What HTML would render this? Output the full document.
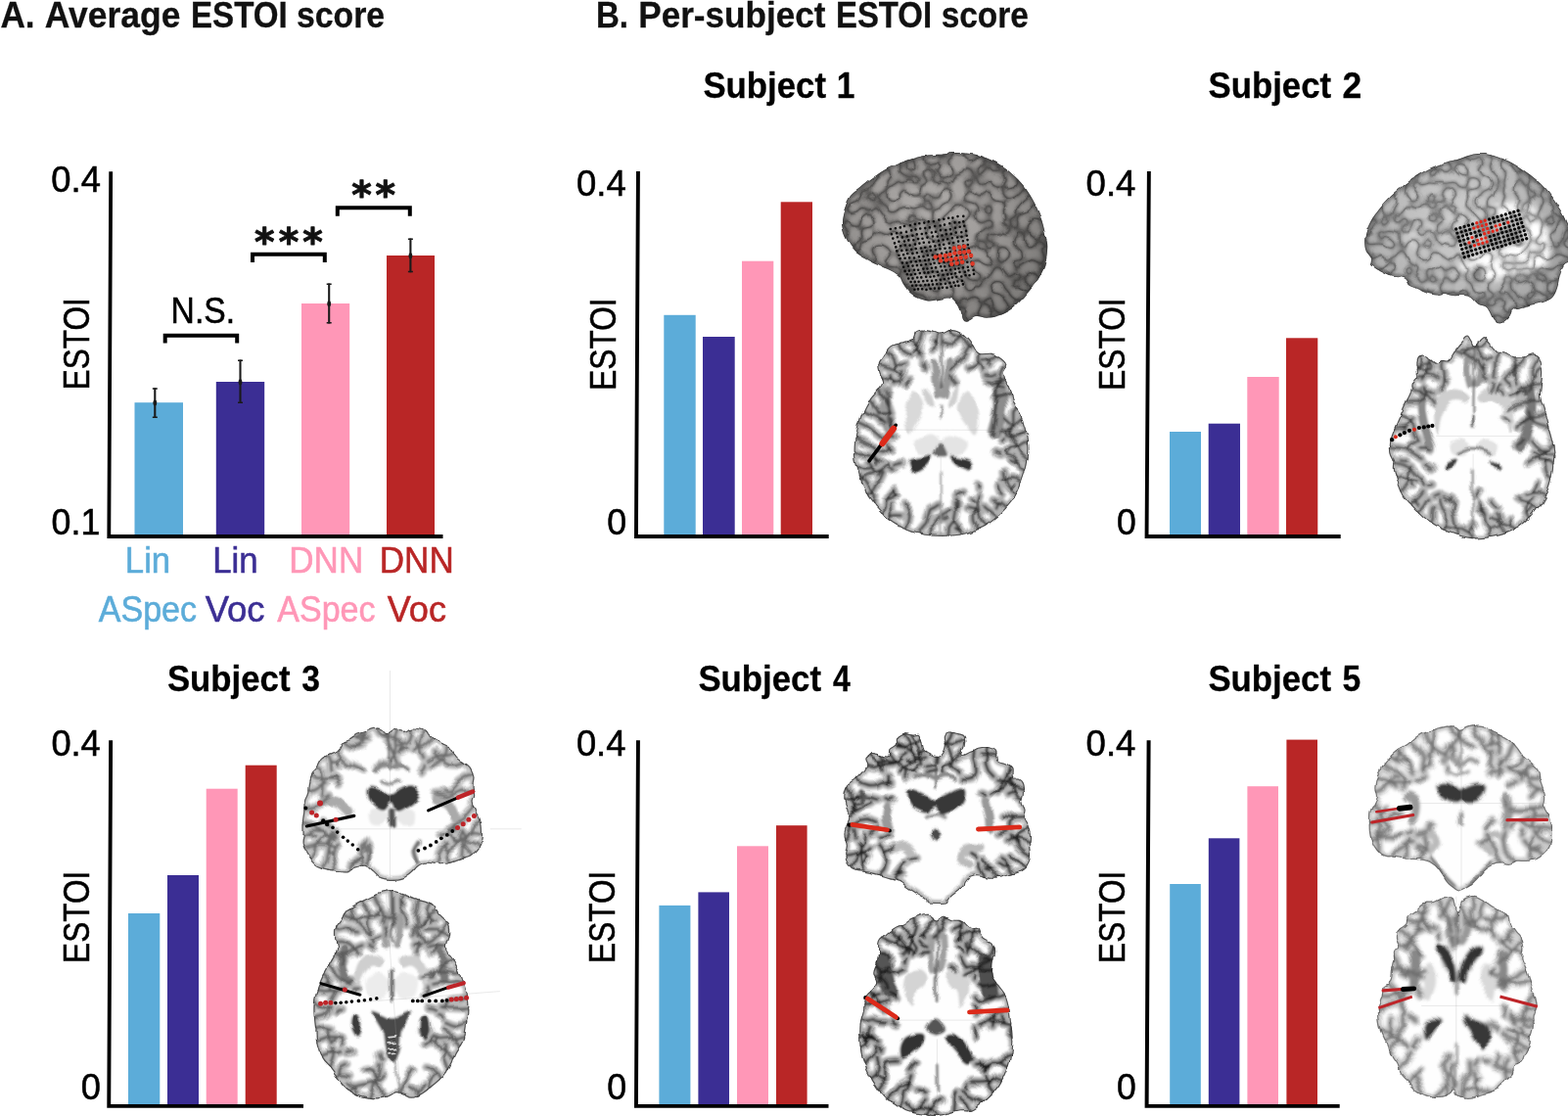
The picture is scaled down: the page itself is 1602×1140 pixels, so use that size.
<!DOCTYPE html>
<html lang="en">
<head>
<meta charset="utf-8">
<title>ESTOI scores</title>
<style>
html,body{margin:0;padding:0;background:#fff;}
body{width:1602px;height:1140px;overflow:hidden;}
svg{display:block;font-family:"Liberation Sans",sans-serif;}
</style>
</head>
<body>
<svg width="1602" height="1140" viewBox="0 0 1602 1140" role="img" aria-label="ESTOI score figure">
<rect x="0" y="0" width="1602" height="1140" fill="#fff"/>

<!-- 00_defs.svg -->
<defs>
<filter id="soft" x="-5%" y="-5%" width="110%" height="110%"><feGaussianBlur stdDeviation="1.25"/></filter>
<filter id="softer" x="-5%" y="-5%" width="110%" height="110%"><feGaussianBlur stdDeviation="1.7"/></filter>
<filter id="wob" x="-5%" y="-5%" width="110%" height="110%" color-interpolation-filters="sRGB"><feTurbulence type="fractalNoise" baseFrequency="0.075" numOctaves="1" seed="4" result="t"/><feDisplacementMap in="SourceGraphic" in2="t" scale="7" xChannelSelector="R" yChannelSelector="G" result="d"/><feGaussianBlur in="d" stdDeviation="0.45"/></filter>
<filter id="wob2" x="-5%" y="-5%" width="110%" height="110%" color-interpolation-filters="sRGB"><feTurbulence type="fractalNoise" baseFrequency="0.09" numOctaves="1" seed="8" result="t"/><feDisplacementMap in="SourceGraphic" in2="t" scale="4" xChannelSelector="R" yChannelSelector="G" result="d"/><feGaussianBlur in="d" stdDeviation="0.4"/></filter>
<filter id="soft0" x="-5%" y="-5%" width="110%" height="110%"><feGaussianBlur stdDeviation="0.6"/></filter>
<filter id="soft2" x="-20%" y="-20%" width="140%" height="140%"><feGaussianBlur stdDeviation="1.6"/></filter>
<filter id="soft3" x="-40%" y="-40%" width="180%" height="180%"><feGaussianBlur stdDeviation="3.2"/></filter>
<path id="ol_s1ax" d="M935.9 339.5C938.4 338 943.1 337.1 947.2 337.3C951.2 337.4 956.2 340.6 960.3 340.4C964.4 340.3 968.1 336.4 971.6 336.1C975 335.8 977.8 336.8 981 338.6C984.1 340.4 987.2 343.4 990.3 347C993.5 350.6 995.7 357.8 999.7 360.2C1003.8 362.5 1010.4 359.8 1014.7 361.1C1019.1 362.3 1023.7 365.3 1026 367.7C1028.4 370 1028.8 372.7 1028.8 375.2C1028.8 377.7 1025.5 379.2 1026 382.7C1026.5 386.1 1030.1 391.1 1031.6 395.8C1033.2 400.5 1033.5 406.5 1035.4 410.8C1037.3 415.2 1041 418.4 1042.9 422.1C1044.8 425.9 1045.4 429.3 1046.7 433.4C1047.9 437.4 1049.6 441.8 1050.4 446.5C1051.2 451.2 1051.7 456.2 1051.3 461.5C1051 466.8 1049.9 472.8 1048.5 478.4C1047.1 484.1 1045.1 490 1042.9 495.3C1040.7 500.6 1038.5 505.6 1035.4 510.3C1032.3 515 1028.2 519.4 1024.1 523.5C1020.1 527.5 1015.7 531.6 1011 534.7C1006.3 537.9 1001 540.3 996 542.2C991 544.2 986.6 545.6 981 546.6C975.3 547.5 968.4 547.9 962.2 547.9C955.9 547.9 949 547.5 943.4 546.6C937.8 545.6 933.4 544.2 928.4 542.2C923.4 540.3 918.1 537.9 913.4 534.7C908.7 531.6 904.3 527.5 900.2 523.5C896.2 519.4 892.1 514.7 889 510.3C885.8 506 883.5 501.9 881.5 497.2C879.4 492.5 878.2 487.2 876.8 482.2C875.4 477.2 873.6 472.2 873 467.2C872.4 462.2 872.5 457.1 873 452.1C873.5 447.1 874.6 442.1 875.8 437.1C877.1 432.1 878.6 426.8 880.5 422.1C882.4 417.4 884.4 413 887.1 409C889.7 404.9 894 400.8 896.5 397.7C899 394.6 901.8 393 902.1 390.2C902.4 387.4 899.1 383.9 898.4 380.8C897.6 377.7 896.8 374.2 897.4 371.4C898 368.6 900.1 366.7 902.1 363.9C904.1 361.1 906.5 356.9 909.6 354.5C912.7 352.2 917.1 351.2 920.9 349.8C924.6 348.4 929.6 347.8 932.1 346.1C934.6 344.4 933.4 341 935.9 339.5Z"/>
<clipPath id="cp_s1ax"><use href="#ol_s1ax"/></clipPath>
<path id="sd_s1ax" d="M943.5 335.9L941.7 343.6L939.1 349.6L938.7 356.2L938.2 362.7M958.3 338.8L957.2 344.7L955.2 348.7L955.5 353.2L953.5 357.2M968.7 335.4L971.1 340.4L974.6 342.5L978.6 343.4L982.6 343.2M982.6 343.2L986.1 348L989.5 352.8M984 338.8L980.7 346.1L975.4 349.9L968.9 350.3L962.7 348.4M956.9 349.5L954.6 349.5L952.9 347.5M994 349.8L987.4 357.5L984.3 365.6L977.9 371.5L971.8 377.6M971.6 384.5L972.6 387.7L976 392M1002.1 359.4L1000.2 365.3L1000.7 369.9L1003.3 373.7L1004.6 378.2M1000.7 369.9L995.5 373.7L989.4 375.6M1007.5 383.7L1013.5 384.5L1017.3 382.6M1019.8 361.5L1016.3 365.9L1012.4 367.1L1008.3 367.9L1004.2 368.3M1012.4 367.1L1011.6 370L1010.4 372.8M1030.1 373L1024.6 376.5L1022.5 381.3L1021.2 386.2L1019.2 391M1019.2 391L1022.1 393.2L1025.6 394.1M1028.5 385.6L1022.7 388.7L1017.7 388.7L1012.9 390.4L1008 389.6M1034.5 401.5L1028.9 402.5L1025.1 404.3L1021 405.3L1017.3 407.3M1039.1 414.2L1035.3 422.4L1035.2 430.4L1034.7 438.3L1031.1 445.5M1025.8 447.4L1024.4 447.7L1023.3 450.7M1045.9 425.6L1039.3 430.8L1034.9 436.5L1028.6 439.8L1021.4 439.4M1049.5 437.4L1046 441.3L1042.5 443.6L1038.6 445.2L1034.5 444.7M1046 441.3L1042.1 442.5L1039 445.3M1028.4 444.4L1028.1 441.4L1026.4 440.6M1052.7 452.4L1046.8 453L1043.1 455.6L1038.7 456.5L1034.4 455.3M1034.4 455.3L1031.6 458.6L1028.5 461.6M1051.8 470.4L1043.9 463.1L1039.4 454.7L1034 447L1030.6 438.1M1032 433.1L1029 430.3L1025.4 427.6M1049.2 481.8L1042.6 477L1039.9 470.8L1035.6 465.6L1029.3 463.3M1039.9 470.8L1035.7 471.1L1031.9 469.3M1023.1 464L1021.4 464.2L1017.8 462.8M1045.1 493.9L1039.6 490.1L1034.7 488.3L1029.5 488.7L1024.4 489.9M1020.2 496.6L1021.8 502.1L1023.5 504.9M1040 505.4L1033.3 500.4L1029.1 495L1027.1 488.4L1026 481.6M1033.3 500.4L1034.6 497.5L1036.5 495M1030.1 519.4L1025.9 515.7L1022.6 513.2L1018.5 512.8L1014.9 510.9M1022.6 513.2L1020.1 515.5L1019 518.7M1020.8 528.8L1015.8 525.7L1012.7 522.6L1008.9 520.4L1005.7 517.3M1008.2 538.2L1002.1 530.6L1000.3 522.5L998.6 514.4L1001.3 506.6M1000.3 522.5L994.6 520.3L988.7 518.9M999.7 499.1L999.9 497.1L999.3 495.1M997.8 543.1L997.4 535.9L995 530.6L994.9 524.8L996.6 519.3M995.7 513.2L995.8 512.7L993.1 509.5M981.6 548L981.5 542.4L979.7 538.8L977.2 535.5L974.5 532.4M981.5 542.4L978.5 541.3L976 539.2M968.3 528.6L966 529.9L963.6 530M968.6 549.2L969.7 538.6L975.1 531.1L976.6 522.1L975.3 513M977.1 506.3L980.5 504.1L983.5 503M951.6 549L952.6 538.6L956.7 530.7L964.3 525.8L971.9 521.2M977.7 518.2L978.9 514.4L977.4 510.6M937.8 546.9L941.7 539.3L946.4 534L948.2 527.2L950.3 520.4M950.3 520.4L954.6 518.5L958.5 515.8M924.6 542.3L927.6 534.5L929.4 527.8L927.7 521.2L924.4 515.2M909.1 533.5L910 528.2L911 524.3L910.8 520.2L910.7 516.1M910 528.2L915.1 526.2L920.5 526.7M912.2 508.8L914.4 505.2L914.4 501.5M900.6 526L904.9 518.7L905.6 511.7L909.3 505.8L913.8 500.4M905.6 511.7L911.3 509.6L916 505.6M892 516.6L893 506.7L889.1 498.7L884.2 491.3L878.8 484.3M884.6 506.5L891.9 501.3L895.6 494.8L899.7 488.6L902.8 481.8M907.8 477L911.5 479.2L913.3 479.5M877.9 491.7L885.1 485.4L892.8 482.7L900.5 479.8L906.8 474.6M892.8 482.7L891.9 476.5L888.1 471.5M913.1 475.3L917.2 474.1L921.4 472.8M873.9 477.8L879.4 477.1L883.3 478.4L887.3 478.4L891.4 478.1M895.9 474.9L896.3 472.4L894.4 468M871.2 463.8L880.1 464.2L887.5 465.6L894.8 467.1L900.3 472.1M901.1 479.3L898.1 483.9L895.8 486.1M872.1 447.7L880.8 451.6L888.4 454.8L894.9 459.8L903 461.2M903 461.2L906.7 459L910.6 457.5M876 430.7L884.4 434.3L890.6 438.7L896.5 443.6L902.2 448.8M902.2 448.8L907.3 446.3L912.9 446.9M906.5 454.6L907.2 455.5L910.7 458.2M880.3 418.7L886.8 421L891.7 423.1L896.7 425.3L899.9 429.6M887 406.5L891 410.8L892.5 414.9L895.8 417.8L897.4 421.9M897.4 421.9L902.3 421.4L907.2 421.5M899.7 427.4L902.1 429.4L904.4 431.6M897.3 394.6L899.9 403L904.9 408.8L908 415.8L910.4 423.1M910.3 428.2L911.3 431.8L911.7 434M898.5 384.5L904.6 386.8L909.7 387.9L914.3 390.4L919.5 390.4M919.5 390.4L920.6 384.6L922.3 379M925.7 391.7L927.5 388.6L929.2 387.8M896 371L903.6 373.6L909.6 376.1L915.8 378.1L921.1 381.9M903.8 358.8L909.5 362.6L912.4 366.9L913.9 372L914.7 377.3M913.9 372L919.5 372.9L925 371.6M909.6 383.1L910 386.7L913.1 391.7M918.7 349L920.3 354.9L923.1 358.4L927.3 360.3L931 363M931.6 344.6L935.9 349.6L938.3 354.2L938.9 359.3L941.7 363.6M938.3 354.2L936.4 357.6L933.4 360M944.1 371.2L945.3 375.4L945.2 377.1" fill="none" stroke-linecap="round" stroke-linejoin="round"/>
<path id="ol_s2ax" d="M1500 343.5C1501.9 343.5 1503.2 347.4 1504.4 349.1C1505.5 350.9 1506 354.1 1507 353.8C1508 353.6 1508.9 349.4 1510.4 347.6C1511.9 345.9 1514.1 342.9 1516 343.1C1517.9 343.4 1519.4 346.6 1521.6 349.1C1523.8 351.7 1526.3 356.6 1529.1 358.5C1532 360.4 1535.7 359.5 1538.5 360.4C1541.3 361.3 1542.9 363.5 1546 364.2C1549.2 364.8 1553.9 364.6 1557.3 364.2C1560.7 363.7 1564 361 1566.7 361.3C1569.3 361.7 1571.7 363.1 1573.3 366C1574.8 369 1575.8 374.8 1576.1 379.2C1576.4 383.6 1575.4 387.9 1575.1 392.3C1574.8 396.7 1573.7 401.1 1574.2 405.5C1574.7 409.8 1576.7 413.9 1578 418.6C1579.2 423.3 1580.5 428.9 1581.7 433.6C1583 438.3 1584.4 442.1 1585.5 446.8C1586.6 451.4 1588 456.8 1588.3 461.8C1588.6 466.8 1588 471.8 1587.3 476.8C1586.7 481.8 1585.8 487.1 1584.5 491.8C1583.3 496.5 1581.9 500.6 1579.8 505C1577.8 509.3 1575.1 514 1572.3 518.1C1569.5 522.2 1566.4 525.9 1562.9 529.4C1559.5 532.8 1555.7 536.1 1551.7 538.7C1547.6 541.4 1543.2 543.6 1538.5 545.3C1533.8 547 1528.8 548.2 1523.5 549.1C1518.2 549.9 1512.2 550.7 1506.6 550.4C1501 550.1 1494.7 548.5 1489.7 547.2C1484.7 545.9 1481 544.5 1476.6 542.5C1472.2 540.5 1467.5 537.8 1463.4 535C1459.4 532.2 1455.6 528.7 1452.2 525.6C1448.7 522.5 1445.9 519.7 1442.8 516.2C1439.7 512.8 1435.9 509 1433.4 505C1430.9 500.9 1429.3 495.9 1427.8 491.8C1426.2 487.7 1424.6 484 1424 480.5C1423.4 477.1 1424.6 474.3 1424 471.2C1423.4 468 1420.9 465.2 1420.3 461.8C1419.6 458.3 1419.6 454.3 1420.3 450.5C1420.9 446.8 1422.5 443.3 1424 439.2C1425.6 435.2 1427.8 430.5 1429.7 426.1C1431.5 421.7 1433.4 417 1435.3 413C1437.2 408.9 1439.8 405.1 1440.9 401.7C1442 398.3 1440.8 395.4 1441.9 392.3C1442.9 389.2 1446.5 386.7 1447.5 382.9C1448.4 379.2 1447 372.9 1447.5 369.8C1448 366.7 1448.6 365.1 1450.3 364.2C1452 363.2 1455 363.1 1457.8 364.2C1460.6 365.3 1464.7 370.3 1467.2 370.7C1469.7 371.2 1470.6 367.6 1472.8 367C1475 366.3 1478.1 368.4 1480.3 367C1482.5 365.6 1483.8 361.5 1486 358.5C1488.2 355.6 1491.1 351.6 1493.5 349.1C1495.8 346.6 1498.2 343.5 1500 343.5Z"/>
<clipPath id="cp_s2ax"><use href="#ol_s2ax"/></clipPath>
<path id="sd_s2ax" d="M1507.8 349.4L1509.7 355L1511 359.2L1512.1 363.5L1514.8 367.1M1514.8 367.1L1519.4 367.3L1523.4 365M1516.6 373.1L1515.2 375.1L1514.7 379.9M1521.6 346.7L1514.9 352.9L1507.4 354.4L1500.2 356.9L1492.6 357.4M1532.2 358.1L1528.2 365.4L1527.5 372.2L1527.4 379.1L1526.7 385.9M1525.4 391.1L1524.9 395.3L1522.1 399.9M1546.1 362.6L1548.4 370.9L1548.9 378.3L1549.4 385.7L1551.3 392.8M1548.4 370.9L1545.7 376.7L1546.4 383.1M1558 396.1L1558.9 401.5L1557.9 404.2M1558.2 362.5L1554.3 371.2L1547.5 375.7L1541.4 381L1537.3 388M1537.3 388L1540.3 391.5L1544 394.2M1533.3 393.7L1529.7 395.4L1527.6 399.5M1572.7 362.7L1568 371.1L1565.1 378.8L1565.2 387L1564.2 395.1M1557.9 399.5L1554 401L1550.5 403.7M1577 374.5L1571.8 377L1569.4 380.5L1568.6 384.7L1565.9 388M1565.2 395L1562.5 398.7L1562.1 400.1M1576.6 391.8L1565.8 392.9L1556.7 395.4L1550.1 402.2L1541.1 404.9M1536.1 403.7L1534.8 400.6L1530.7 397.9M1576.5 409.1L1565.6 409L1556.6 411.8L1547.4 414.3L1539.2 419M1537.3 426.4L1539.6 428.1L1542.2 430.3M1580.3 421.6L1571.5 426.2L1563.1 426.7L1555.5 430.2L1550.5 437M1584.2 437L1576.5 434.1L1569.9 431.9L1564.8 427.1L1562.9 420.4M1564.8 427.1L1558.8 429.5L1553.6 433.3M1588.4 452.9L1581.8 459.5L1575.1 464.3L1568 468.7L1561.1 473.3M1581.8 459.5L1576.8 459.8L1571.9 459.5M1589.8 464.1L1581 463.9L1574.7 460.1L1568.9 455.5L1564.3 449.8M1557.2 448.3L1553.8 452.7L1549.4 454.5M1588.9 476.5L1584.4 471.4L1579.4 468.7L1573.8 468.7L1568.4 467.1M1584.4 471.4L1580.8 471.2L1577.4 472.2M1586.6 489.5L1581.4 485.4L1579.6 480.5L1578.8 475.3L1578.1 470.2M1575.6 463.3L1570.8 463.4L1566.7 462.2M1580.6 506.7L1574.9 503.3L1569.7 503.2L1564.7 504.1L1559.7 505.4M1572.2 520.9L1566.6 516.2L1561.9 512.9L1556.4 511.4L1551.7 508.1M1562.9 531.5L1559.3 524.6L1559.4 518.2L1562.8 512.8L1567 508.1M1559.3 524.6L1562.5 521.7L1565.4 518.4M1566.3 502L1569.2 498.1L1570.8 493.2M1551.1 540.9L1543.4 537.6L1536.6 534.9L1529.8 532.2L1523.1 529.2M1543.4 537.6L1542.5 534.2L1542.1 530.7M1517.4 524.8L1513.6 521.8L1511.6 519.7M1539.4 546.6L1535.8 540.5L1533 535.7L1531.9 530.3L1529.6 525.2M1530.2 518.5L1527.6 516.4L1523.9 511.6M1521.8 550.9L1521.4 540.3L1517.5 532.1L1516.7 523.1L1512 515.4M1521.4 540.3L1526.5 539.2L1531.6 538.1M1508.7 508.1L1509.6 505.3L1512.4 501.1M1505.9 551.8L1500.1 544.1L1492.7 539.9L1484.2 539.7L1475.9 537.9M1500.1 544.1L1502.5 539.7L1505.2 535.5M1489.8 548.8L1487.5 539.3L1485.5 531.2L1483.7 523L1485.6 514.8M1485.6 514.8L1482.8 512L1480.7 508.6M1483.5 509.3L1478.1 509.1L1474.8 506.9M1475.1 543.4L1477.8 533.7L1477.1 525.1L1473.4 517.3L1471.3 509M1461.4 535.3L1463.9 530.1L1463.8 525.7L1464.1 521.4L1465.8 517.4M1448.2 523.9L1452.3 519.7L1454.9 516.3L1457 512.4L1460.2 509.5M1465.7 506.5L1469 505L1470.6 504.6M1439.9 515.3L1444.3 511.1L1448.5 509.6L1451.6 506.2L1454.2 502.5M1444.3 511.1L1447.4 512.9L1449.3 515.9M1454.7 495.4L1454 492.9L1451.5 488M1430.7 503.2L1435.1 496.1L1439 490.5L1439.6 483.6L1440.7 476.7M1435.8 470.7L1433.9 471.1L1429.8 470.4M1424.6 487.7L1431.6 485.6L1437.3 487.2L1442.4 489.9L1447.9 492M1442.4 489.9L1442.1 493.5L1442.8 497M1422.7 472.1L1432.5 474.8L1440.6 478.3L1446.7 484.8L1452.9 491.2M1458.7 495.6L1459.5 495.6L1463.1 495M1418.3 456.6L1428.7 457.3L1437.4 459.2L1445 463.9L1452.4 468.8M1437.4 459.2L1441 453.9L1447 451.4M1456.3 474.9L1459.9 477.6L1463.2 479.7M1422.4 439.5L1429.2 436.9L1435.2 436L1440.3 432.7L1443.3 427.4M1429.2 436.9L1432.4 438.4L1435.8 438.4M1429 423.7L1438.5 427.6L1444.2 434.3L1445.5 443L1449.6 450.8M1451.6 457.3L1456.9 457.1L1461.4 458.9M1434.5 411.1L1442.3 410.5L1448.8 410.4L1454.7 407.7L1458.5 402.4M1458.5 402.4L1456.9 399.3L1456.1 395.9M1439.9 397.2L1446.3 398.8L1451.2 400.1L1455.1 403.3L1460.2 404M1460.2 404L1463.1 408.1L1466.4 412.1M1444.9 385.1L1452.1 384.3L1457.8 382.2L1463.9 383.1L1469.1 386.3M1457.8 382.2L1459.6 377.3L1460.1 372.1M1474.5 385.2L1474.9 387.2L1478.1 388.9M1446.1 374L1451.3 375.8L1454.6 378.1L1458.6 378.4L1462.6 378.4M1462.6 378.4L1463.5 374.7L1462.4 371.1M1450.9 362.3L1452.8 368.1L1451.9 372.6L1449.4 376.4M1461.9 365.3L1460.3 372.4L1459.1 378L1456.1 382.9L1452.6 387.6M1460.3 372.4L1454 373.1L1447.6 373.5M1473.5 365.4L1472.4 375.3L1474.8 383.4L1474.5 391.9L1471.1 399.7M1464.6 401.8L1461 399.9L1459.1 399.6M1485 357.5L1494.2 361.5L1502.3 365L1509.4 370.1L1513.7 377.7M1494.2 361.5L1498.1 359.2L1500.5 355.5M1515.6 382.5L1516.1 385.7L1519 387" fill="none" stroke-linecap="round" stroke-linejoin="round"/>
<path id="ol_s3co" d="M383.7 743.6C386.3 743.2 387.9 743.6 389.9 744.4C392 745.1 394.1 748.1 396.2 748.3C398.3 748.4 399.6 745.4 402.4 745.1C405.3 744.9 410.5 747 413.4 746.7C416.2 746.5 417 744 419.6 743.6C422.2 743.2 425.9 743.5 429 744.4C432.1 745.3 435.5 747.1 438.3 749.1C441.2 751 443.5 754.3 446.2 756.1C448.8 757.9 451.6 758.8 454 760C456.3 761.2 458.1 761 460.2 763.1C462.3 765.2 464.4 770.1 466.5 772.5C468.5 774.8 470.4 775.3 472.7 777.2C475 779 478.6 780.8 480.5 783.4C482.5 786 483.9 789.7 484.4 792.8C484.9 795.9 483.5 799 483.6 802.1C483.8 805.3 485.2 808.7 485.2 811.5C485.2 814.4 483.4 816.5 483.6 819.3C483.9 822.2 485.5 825.6 486.8 828.7C488.1 831.8 490.4 834.7 491.4 838.1C492.5 841.4 492.9 845.3 493 849C493.1 852.6 493 856.5 492.2 859.9C491.4 863.3 490.3 866.7 488.3 869.3C486.4 871.9 483.6 874 480.5 875.5C477.4 877.1 473.2 877.5 469.6 878.7C465.9 879.8 462.5 881.8 458.6 882.6C454.7 883.3 450.1 883.5 446.2 883.3C442.2 883.2 438.3 881.5 435.2 881.8C432.1 882 429.8 883.3 427.4 884.9C425.1 886.5 423.8 889.1 421.2 891.2C418.6 893.2 415.4 896.1 411.8 897.4C408.2 898.7 403.2 899.1 399.3 899C395.4 898.8 391.5 898.2 388.4 896.6C385.3 895.1 382.9 891.5 380.6 889.6C378.2 887.6 376.9 885.4 374.3 884.9C371.7 884.4 368.3 885.6 365 886.5C361.6 887.4 357.9 889.9 354 890.4C350.1 890.9 345.7 890.1 341.5 889.6C337.4 889.1 332.7 888.5 329 887.2C325.4 885.9 322.3 884.3 319.7 881.8C317.1 879.3 315.2 875.5 313.4 872.4C311.6 869.3 309.4 866.4 308.7 863C308.1 859.7 309.4 855.8 309.5 852.1C309.6 848.5 309.3 844.8 309.5 841.2C309.8 837.5 310.7 833.9 311.1 830.3C311.5 826.6 311.2 822.4 311.9 819.3C312.5 816.2 314.3 814.6 315 811.5C315.6 808.4 315.1 804.2 315.8 800.6C316.4 796.9 317.6 792.5 318.9 789.7C320.2 786.8 321.9 786 323.6 783.4C325.3 780.8 326.8 776.3 329 774C331.3 771.8 334.2 771.4 336.8 770.1C339.4 768.8 342.6 768.2 344.7 766.2C346.7 764.3 347.3 760.2 349.3 758.4C351.4 756.6 354.5 756.7 357.1 755.3C359.7 753.9 362.1 751.3 365 749.8C367.8 748.4 371.2 747.8 374.3 746.7C377.4 745.7 381.1 744 383.7 743.6Z"/>
<clipPath id="cp_s3co"><use href="#ol_s3co"/></clipPath>
<path id="sd_s3co" d="M383.7 742.1L388.7 749.7L395.6 753.2L403.2 754.7L410.2 758.1M388.7 749.7L393.6 750.2L398.4 750.4M411.3 763.3L409.4 763.8L408.2 766M394.9 746.2L396 756.8L400.2 765L403.7 773.6L406.7 782.3M407 744.2L403.4 753.6L404.3 762.1L403 770.6L398.5 777.9M392.1 781.3L388.8 780.3L387 782M419.2 742.2L419.6 749.8L417.7 755.7L413.1 759.9L407.1 761.2M432.9 744.3L431.3 753L428.8 760L429.6 767.4L432.9 774.1M443.9 752.1L438.7 757.8L433.8 761.5L427.7 762.3L422.1 765M427.7 762.3L425.6 759.9L424.2 757M415.4 763.5L410 767.3L406.8 768.1M457.3 759.7L456 768.3L452.6 774.9L446.4 778.8L440.3 782.9M465.7 768.8L457.5 771.8L450.1 771.3L443.6 774.5L437 777.8M433.9 782L433.5 784.2L430.3 788.6M476.3 777.9L466.4 781.2L457.4 780.5L449.7 775.6L444.6 768.2M485.4 790.2L476.3 792.9L469.8 797.2L465 803.5L459.5 809.2M459.5 809.2L456 809.2L452.8 808M485.6 805.1L477.4 808L470.2 807.9L463.6 810.7L457.3 814.1M457.3 814.1L451.5 812L445.5 811.2M485.8 822.3L478.7 829.8L473.3 837.2L465.6 842.2L459.4 848.9M454.3 851.4L453.2 851.8L450.8 853.8M493 838.3L484.5 844.5L479.7 852.4L471.6 857L462.4 857.8M494.5 851.8L485.6 850L478.2 852.1L472.2 856.8L465 859.2M491.9 866L486 862.1L480.8 860.2L475.3 859.4L470.6 856.4M463.7 856.9L461.1 854.6L457.5 851M482.9 875.9L478.7 868.9L475.2 863.2L474.8 856.5L472.7 850.1M467 845L463.2 847.8L458.9 847.9M472.1 879.5L473.2 872.2L473.5 865.9L471.2 860.1L469.2 854.2M469.2 854.2L470.6 851.3L471.4 848.3M466.1 848.3L461.4 848.5L459.6 846.9M460.1 883.7L457.8 876L459 869.4L462.5 863.8L467.3 859.2M459 869.4L455.9 866.6L454.6 862.5M474.1 858.4L474.6 857.7L477.8 854.8M445.7 884.8L448.2 877.7L448.6 871.4L452 866.1L456.8 862.2M370.7 886.5L370.5 878.4L369 872L370.6 865.6L374 860M359.1 890.3L359.3 884.4L361.4 880.6L364.6 877.6L368.9 876.7M359.3 884.4L363.9 881.1L368.3 877.3M373.2 870.6L374.7 868.2L377.2 864.6M342.1 891.1L340.5 882.7L341.2 875.5L342.3 868.2L345.4 861.6M341.2 875.5L337.7 872L335.6 867.6M327.8 888.4L334.1 879.5L335.6 870.3L338.3 861.3L337.4 852M337.1 844.5L333.3 840.7L329.9 838.8M315.7 879.2L320.7 870.4L323.4 862L329.5 855.6L337.4 851.7M337.4 851.7L340.2 854L343.7 855M308.4 866.8L317.7 864.9L325.4 862.3L333.4 862.9L340.9 866M333.4 862.9L335.8 861L336.9 858.2M307.8 854.3L314.8 851.7L320.3 849.2L326.4 849.8L332.4 849.7M314.8 851.7L318.6 853.2L322 855.3M338.6 850L341.4 850.7L342.9 853.7M308.2 839.3L318.6 842.1L326.2 847.4L333.7 853L341.6 857.9M309.8 826.7L318.8 826L325.6 823.1L330.1 817.1L335.9 812.4M313.8 809.4L319.8 807.4L324.3 805L328.1 801.7L332.5 799.3M338.2 793.9L340.5 794.8L343.7 794.8M316.4 792L323.9 795.8L330.9 795.5L337.9 795.4L344.8 795.6M323 781.4L328.7 788.6L330.2 796.3L329.4 804.2L328.7 812M332.1 770.4L335.8 774.9L337.1 779L337.2 783.3L337.9 787.5M337.1 779L340.8 779.9L344.6 779.4M341.9 793L343.6 795.9L346.3 800.2M342.2 766.2L348.6 774.2L354.8 780.3L363.2 782.7L371 786.6M348.6 774.2L346.6 778.1L345.6 782.3M350.1 756.2L354.6 760.6L359 762.7L363.9 762.9L368.5 761.2M371.9 757.3L370.8 752.3L372.1 750M360.2 751.3L364.9 754.4L369.2 755L373.5 754.4L377.7 753.6M364.9 754.4L367.7 751.4L371.4 749.5M374.2 745.2L374 752.6L370.7 757.6L365.7 761L359.7 762" fill="none" stroke-linecap="round" stroke-linejoin="round"/>
<path id="ol_s3ax" d="M392.7 910.7C396.1 910 398.6 909.8 402.1 910.1C405.5 910.4 409.6 911.4 413.3 912.6C417.1 913.8 420.8 916 424.6 917.3C428.3 918.5 432.7 918.8 435.8 920.1C439 921.3 441.2 922.4 443.4 924.8C445.5 927.1 446.5 931 449 934.2C451.5 937.3 456.5 940.4 458.4 943.5C460.2 946.7 460.4 949.5 460.2 952.9C460.1 956.4 457.7 960.4 457.4 964.2C457.1 967.9 457 972 458.4 975.5C459.8 978.9 463.7 981.4 465.9 984.8C468.1 988.3 469.9 992 471.5 996.1C473.1 1000.2 474.2 1004.9 475.3 1009.2C476.4 1013.6 477.6 1017.7 478.1 1022.4C478.6 1027.1 478.4 1032.4 478.1 1037.4C477.8 1042.4 476.8 1048 476.2 1052.4C475.6 1056.8 475.9 1059.7 474.3 1063.7C472.7 1067.7 468.9 1072.1 466.7 1076.2C464.5 1080.4 463.4 1084.6 461 1088.7C458.7 1092.9 455.6 1097.5 452.3 1101.2C449 1104.9 444.6 1108.3 441.1 1111.2C437.5 1114.1 434.2 1116.9 431.1 1118.7C428 1120.4 425.5 1121.8 422.3 1121.8C419.2 1121.8 415.3 1119.6 412.4 1118.7C409.4 1117.7 407.4 1116 404.9 1116.2C402.4 1116.4 400.7 1118.9 397.4 1119.9C394 1121 389.7 1122.4 384.9 1122.4C380.1 1122.4 373.4 1121.4 368.7 1119.9C363.9 1118.5 359.7 1116.2 356.2 1113.7C352.6 1111.2 350.6 1108.7 347.4 1104.9C344.3 1101.2 340.6 1095.2 337.5 1091.2C334.3 1087.3 331 1085.2 328.7 1081.2C326.4 1077.3 324.8 1072.3 323.7 1067.5C322.6 1062.7 322.8 1058.1 322.3 1052.4C321.7 1046.8 320.6 1039 320.4 1033.7C320.2 1028.3 320.6 1024.9 321.3 1020.5C322.1 1016.1 323.5 1011.8 325.1 1007.4C326.7 1003 328.5 998.6 330.7 994.2C332.9 989.8 336 985.2 338.2 981.1C340.4 977 343.2 973.6 343.9 969.8C344.5 966.1 342.1 962.3 342 958.6C341.8 954.8 341.7 950.7 342.9 947.3C344.2 943.9 346.8 941.4 349.5 937.9C352.2 934.5 355.4 929.6 358.9 926.6C362.3 923.7 366.4 922.1 370.1 920.1C373.9 918 377.7 916 381.4 914.4C385.2 912.9 389.2 911.4 392.7 910.7Z"/>
<clipPath id="cp_s3ax"><use href="#ol_s3ax"/></clipPath>
<path id="sd_s3ax" d="M399.5 908.5L401.7 918.7L402 927.8L401.8 936.8L402.7 945.8M412.2 910.7L409.3 920.4L410 928.9L413.8 936.7L415.7 945.1M409.3 920.4L411.8 922.2L413.4 924.9M427.6 916.5L426.8 926L425 933.8L426.4 941.7L424.2 949.4M439.8 920.2L436.5 928.5L436.4 935.9L433.2 942.6L427.7 947.6M436.4 935.9L440.4 937.7L444 940.3M424.7 951.7L424.2 953.5L422.2 955.8M447.6 929L438.7 934.2L431.9 939.9L427.9 947.8L427.9 956.6M438.7 934.2L439.8 938.5L439.9 943M427.6 963.4L424.7 964L423.4 965.4M458.2 940.9L452.9 949.1L447.4 955.4L441.6 961.4L433.7 964.1M433.7 964.1L430.6 959.9L429.2 955M429 966.3L426.6 969.5L425.8 972.9M461.3 955.1L453.6 952.2L447.3 949.1L440.3 948.8L433.3 949.4M458.7 967.3L452.3 966.4L447.3 965.7L442.3 965.8L437.4 967.1M447.3 965.7L444.8 969.7L441.5 973.3M430.1 966.1L428.2 965.3L425.7 965.4M463.3 979.5L454.1 984.5L448.1 991.2L440.1 995.2L431.6 998.2M471.9 993.1L464.8 993.4L459.3 992L453.7 992.2L448 992.5M442.8 996.1L442.3 998.4L439.2 998.7M475.9 1005.7L467 1003.2L459.2 1004.6L451.3 1003.7L443.5 1005.4M438.6 1007.9L437.7 1012.1L434.6 1016.2M478.7 1016.8L471.1 1020.2L464.2 1021.1L457.8 1023.7L453.5 1029.1M479.9 1029.1L471.6 1030L464.7 1029.6L457.8 1029.3L450.9 1028.5M445.1 1031.4L442.1 1030L436.9 1029.1M479.1 1042.9L472.8 1046.4L466.9 1048.2L460.9 1046.6L455.4 1044M452.4 1039.7L451 1036.9L447.3 1036.1M477 1058.9L467.4 1061.3L458.8 1060.3L450.2 1061.1L441.9 1058.8M441.9 1058.8L438.9 1064.2L433.4 1067.1M437.4 1053L435.6 1052.6L431.4 1052.3M472.2 1070.4L466 1065.1L462.1 1059.7L458.3 1054.2L453.3 1049.8M465.2 1083.2L458.8 1076.1L451.9 1071.8L445.9 1066.3L438.7 1062.4M445.9 1066.3L446.1 1063.1L445.4 1059.9M459.2 1094.6L456.4 1086.8L453.9 1080.3L454.8 1073.3L454.7 1066.3M451.5 1104.2L448.5 1098.3L444.5 1094.9L440.9 1091.2L435.9 1089.7M439.4 1114.5L437.9 1108.8L439.1 1104.5L441.6 1100.9L444.8 1097.8M425.9 1122.8L427.5 1117.7L429.8 1114.3L431.8 1110.8L433.6 1107.1M427.5 1117.7L424.5 1113.5L419.8 1111.3M408.3 1118.5L411.8 1110.9L414.8 1104.6L416.8 1098L421.8 1093.1M392.8 1122.8L390.1 1114L385.2 1107.9L384.1 1100.2L381.1 1093.1M381.1 1093.1L377.4 1091.9L373.8 1092.9M377.9 1123.4L381.5 1113.4L382.4 1104.3L386.9 1096.3L387.9 1087.2M382.4 1104.3L387.8 1102.3L391.5 1097.9M390.3 1082.5L388.3 1079L388.1 1076.8M366.3 1120.7L362.3 1111.7L355.3 1106.3M354.9 1114.6L361.1 1109.9L367.4 1108.3L373.8 1107.5L379.9 1105.4M383.5 1100.3L382.7 1098.3L382 1093.7M343.2 1101.9L346.3 1096.8L347.2 1092.5L349.7 1088.8L353.8 1086.9M346.3 1096.8L351.6 1097.4L356.8 1098.5M335.5 1091.2L338.5 1085.2L340.1 1080.2L341.1 1075.1L340 1069.9M338.2 1064.5L341.2 1061.3L341.3 1058.8M325.9 1079.1L332.7 1076.9L338 1075.2L343.6 1075.4L349.1 1074.5M355.9 1075.6L358.9 1074.7L359.9 1074.5M321.6 1063.4L329.6 1060.7L336 1057.9L343 1058.3L349.7 1060.1M349.7 1060.1L350 1063.9L350.4 1067.7M320.7 1051.9L326.1 1050L330.4 1049.7L334.7 1050.2L338.8 1051.2M334.7 1050.2L335.2 1056.1L336.9 1061.7M319.4 1040.3L325.8 1038.6L330.8 1037.4L334.5 1033.9L336.2 1029.1M338.9 1022.8L339.9 1019L342.9 1014.2M319.5 1022.4L324.4 1025.4L328 1028.2L332.2 1029.6L336.8 1029.7M343.5 1033.3L345.1 1030.8L349.4 1030.9M322.2 1011.1L330.6 1012.4L337.5 1012L344.5 1012L351.2 1010.3M355.2 1006L358.5 1002.9L359.3 1000.7M329 994.3L333.4 998.1L335.8 1001.7L336.7 1006L337.5 1010.3M335.8 1001.7L332.2 1005.5L327.3 1007.1M335.5 982.8L340.7 989.7L343.7 996.3L349 1001.3L355.4 1004.8M360.6 1009.9L362.2 1010.2L365.6 1009.8M341.1 973.2L349.8 974.9L357 972.5L363.3 968.4L370.2 965.6M349.8 974.9L351.6 980.2L350.2 985.7M377.6 964.6L380.9 967.4L382.6 967.5M341.2 962.2L349.5 961.9L355.9 964.4L361.3 968.6L366.4 973.1M341.2 947.9L346.3 950L350.3 949.2L354.1 947.8L358.1 948.5M354.1 947.8L359.3 950.5L365 951.1M349.9 934.9L360 938.8L369.3 937.1L378.8 938.1L387.8 935.2M394.6 937L397 938L400.1 936.1M357.5 925.9L360.4 935.5L366 942.2L372 948.5L377.9 954.9M382.1 957.9L384.8 957.5L388 955.9M368.1 919.4L374.7 926.9L377.4 934.9L375.7 943.3L378.1 951.4M378.5 959.4L380.9 960.5L382.4 963.3M381.4 912.8L385.3 921.4L390.3 927.4L392.4 935L390.8 942.8M390.3 927.4L387.6 931.2L384.6 934.9M393.1 947.6L394.8 951.8L395.1 955.6" fill="none" stroke-linecap="round" stroke-linejoin="round"/>
<path id="ol_s4co" d="M925.7 748.3C927.8 748.3 931.2 749.7 933.5 749.8C935.8 750 938.3 748.1 939.7 749.1C941.2 750 941.3 752.4 942.1 755.3C942.9 758.2 943 763.6 944.4 766.2C945.9 768.8 948.7 769.8 950.7 770.9C952.6 772 954.3 772.8 956.1 772.8C958 772.8 960.2 772.5 961.6 770.9C963 769.3 964.3 766.2 964.7 763.1C965.1 760 963.2 754.8 963.9 752.2C964.7 749.6 966.9 748 969.4 747.5C971.9 747 976.1 748.3 978.8 749.1C981.5 749.8 984.6 750.1 985.8 752.2C987 754.3 986.2 758.4 985.8 761.5C985.4 764.7 982.6 769.9 983.5 770.9C984.4 772 988.4 768.8 991.3 767.8C994.1 766.8 997.5 765.3 1000.6 764.7C1003.8 764 1007.2 763.4 1010 763.9C1012.9 764.4 1016.3 765.6 1017.8 767.8C1019.4 770 1017.8 775.1 1019.4 777.2C1020.9 779.2 1024.7 779 1027.2 780.3C1029.7 781.6 1032.9 782.6 1034.2 785C1035.5 787.3 1033.8 792.5 1035 794.3C1036.2 796.2 1039.6 794.9 1041.2 795.9C1042.9 796.9 1044.4 798.2 1045.1 800.6C1045.9 802.9 1046.1 806.8 1045.9 810C1045.8 813.1 1044.1 816.5 1044.4 819.3C1044.6 822.2 1047.1 824.3 1047.5 827.1C1047.9 830 1046.2 833.6 1046.7 836.5C1047.2 839.4 1049.6 841.4 1050.6 844.3C1051.7 847.2 1052.7 850.3 1053 853.7C1053.2 857.1 1052.2 861 1052.2 864.6C1052.2 868.3 1053.5 872.2 1053 875.5C1052.4 878.9 1051 882.3 1049.1 884.9C1047.1 887.5 1044.4 889.6 1041.2 891.2C1038.1 892.7 1034 893.2 1030.3 894.3C1026.7 895.3 1023 896.9 1019.4 897.4C1015.7 897.9 1011.8 897.9 1008.5 897.4C1005.1 896.9 1001.9 894.5 999.1 894.3C996.2 894 993.4 894.8 991.3 895.8C989.2 896.9 987.6 899 986.6 900.5C985.6 902 986.7 902.9 985.2 904.7C983.7 906.5 980.2 909.1 977.7 911.3C975.2 913.5 971.9 915.9 970.2 917.8C968.5 919.7 971 921.7 967.4 922.5C963.8 923.3 952.2 923.1 948.6 922.5C945 921.9 947.8 920.4 945.8 918.8C943.8 917.2 939.8 915.3 936.4 913.1C933 910.9 927.9 907.7 925.1 905.6C922.3 903.5 922.2 901.9 919.4 900.5C916.7 899.2 912.2 898.4 908.5 897.4C904.9 896.4 901.5 895.3 897.6 894.3C893.7 893.2 889 891.9 885.1 891.2C881.2 890.4 877.3 890.9 874.2 889.6C871 888.3 868.2 885.9 866.4 883.3C864.5 880.7 863.5 877.4 863.2 874C863 870.6 864.9 866.7 864.8 863C864.7 859.4 862.3 855.8 862.4 852.1C862.6 848.5 864.8 844.6 865.6 841.2C866.4 837.8 867.5 834.9 867.1 831.8C866.7 828.7 864 825.8 863.2 822.4C862.4 819.1 862.1 814.9 862.4 811.5C862.8 808.1 863.6 804.7 865.6 802.1C867.5 799.5 871.4 798.2 874.2 795.9C876.9 793.6 880.1 790.4 882 788.1C883.8 785.7 884.8 783.9 885.1 781.8C885.4 779.8 882.7 777.7 883.5 775.6C884.3 773.5 887.4 770.3 889.8 769.4C892.1 768.4 894.7 769.6 897.6 770.1C900.4 770.7 905.1 773.1 907 772.5C908.8 771.8 907.2 768.1 908.5 766.2C909.8 764.4 913.5 763.6 914.8 761.5C916.1 759.5 915.3 755.7 916.3 753.7C917.4 751.8 919.4 750.7 921 749.8C922.6 748.9 923.6 748.3 925.7 748.3Z"/>
<clipPath id="cp_s4co"><use href="#ol_s4co"/></clipPath>
<path id="sd_s4co" d="M930 747.6L934.9 756.1L939.5 763.2L940.3 771.7L942.1 780.1M942.6 752L936.7 758.4L929.8 760.5L923.1 763.3L916 762.3M945.8 766L939.3 773.2L932 777.2L926.5 783.4L919.4 787.8M932 777.2L928.9 776.6L925.8 777.4M958.8 771L958 777L955 780.5L950.8 782.2L946.3 783.1M963.1 757.9L968.6 763.7L971.1 769.9L973 776.3L971.4 782.8M971.4 782.8L976.7 785.3L980.9 789.4M973.5 746.2L970.7 754.1L966.2 759.5M987.8 755.3L982.3 757.8L978.1 759.2L973.8 760.4L969.3 759.8M985.7 766.5L979.6 771.7L974.4 775.7L969.5 780.2L963.4 783M963.4 783L963.5 786.5L963.9 790M956.8 785.9L952.3 786.8L947.3 788.1M995.4 764.8L994.6 773.7L996.8 780.9L997.5 788.4L994.3 795.3M994.3 795.3L989.4 796.3L984.4 796.5M1009.7 762.4L1008.5 771.8L1006.9 779.8L1009.7 787.4L1015.2 793.3M1019.3 796.4L1022.1 796.8L1027.6 798.5M1020 772.3L1015 770.9L1011 770.9L1007 770.9L1003 770.8M1032.2 781.1L1029.8 789.8L1026.6 796.8L1021.5 802.4L1019.1 809.7M1037.1 794L1029.7 798.7L1025 804.4L1018.5 807.9L1011.6 810.7M1005.8 812.8L1004.8 811L1001.8 809.4M1047.4 806.5L1041.7 804.8L1037.5 802.7L1034.5 799.2L1032.1 795.2M1045.9 818L1039.7 814.3L1037.3 808.8L1034.9 803.4L1030.3 799.6M1037.3 808.8L1033.7 809.2L1030.3 810.7M1028.6 794.6L1030.1 790L1031.5 788.3M1048.1 835.2L1041 835.4L1035.3 835.6L1029.9 834.1L1024.3 833.8M1035.3 835.6L1032.6 840.7L1032.6 846.4M1052.4 845L1045.8 848.5L1040.6 851.8L1035.8 855.5L1030.4 858.3M1040.6 851.8L1039.3 856.3L1040.4 860.8M1053.9 861L1048.1 858.2L1043.6 855.8L1038.6 855.5L1033.6 854.8M1028.6 849.1L1024.5 850.3L1020.9 851.5M1054.5 875L1046.5 870.7L1041.2 865.1L1037.7 858.3L1032.8 852.4M1049.6 886.7L1044.1 883.2L1040.6 879.6L1036.2 877.3L1032.7 873.8M1035 894.6L1031.3 889L1030.6 883.8L1028 879.2L1023.5 876.4M1030.6 883.8L1024.9 883.3L1019.8 880.6M1021.2 898.6L1016 892.8L1012.1 887.7L1007.6 883.3L1004.2 877.8M1012.1 887.7L1008.6 887.5L1005.2 886.1M1005.1 897.9L1004 892.5L1001.5 889.4L999.6 885.8L999.3 881.7M997.8 876.2L995.4 873.7L991.5 871.3M913.2 900.1L915.3 893.4L918.7 889L921.6 884.3L925.6 880.4M915.3 893.4L918.8 892.7L921.9 890.8M930.5 877.6L932.3 876.8L935.4 875.7M896.7 895.6L903.5 887.7L905.8 879.1L903.8 870.4L898.3 863.3M903.8 870.4L908 868.6L911.6 865.7M899 855.9L903.3 855.3L907.9 853.3M881.5 892.1L881.1 883L880.6 875.2L880.6 867.4L878.4 859.9M881.1 883L884.3 879.9L885.8 875.7M874.2 855.4L873.7 852.5L872.7 847.8M868.5 887.8L874.2 878.5L878.9 870.3L882.8 861.6L884.7 852.3M878.9 870.3L883.7 871.3L887.1 874.8M861.8 874.8L870.2 873.6L877.1 872L883.8 870L889.3 865.7M862.4 858.8L866.4 854.7L867.7 850.3L868.8 845.9L872 842.6M862.7 845.3L871.5 841.3L879.1 837.6L887.5 836.6L895.3 839.8M871.5 841.3L874.4 843.8L878.2 844.4M897.1 845.3L893.3 848.4L889.7 851.9M865.6 834.8L872.1 829.7L878.3 826.1L884.5 822.4L891.1 819.5M872.1 829.7L870.9 826.1L871.7 822.4M861 818.2L871.4 816.8L879.7 813.6L888.6 814.4L897.3 816.6M871.4 816.8L873.3 814.3L876.2 813.1M904.7 815.3L908.9 816.9L912.4 815.5M864.2 801.5L868 808.1L868.9 814.4L870.4 820.6L874.1 825.9M870.4 820.6L874.7 820.9L879 820.5M873.5 794.5L880.2 800L887.1 802.1L894.3 801.8L900.6 798.4M900.6 798.4L903.8 799.9L907.2 801M906.3 798.9L909.5 799.5L910.6 800.5M883.6 781.9L893.5 783.8L901.8 781.6L910.3 780.2L918.5 777.9M918.5 777.9L921.3 772.9L926.1 769.8M886.1 770L891.9 773.9L896.4 777.3L900.5 781.1L902.7 786.2M896.4 777.3L900.3 777L903.8 778.8M907.5 792.4L908.2 796L907.5 797M899.4 769.2L903.5 775.3L908.9 778.1L914.9 778.7L920.6 776.5M906.5 768.1L912.3 776L918.8 781.6L926.1 786.1L934.6 787.5M926.1 786.1L926.2 789.8L925.6 793.6M914.2 757.7L921.8 761.5L927.4 765.8L932.9 770.1L935.7 776.5M922.8 747.3L927.9 754.5L930.2 761.5L932.6 768.6L937 774.5M937 774.5L941.7 775.3L946.1 773.5M938.8 780L936.7 782.6L933.1 787.6" fill="none" stroke-linecap="round" stroke-linejoin="round"/>
<path id="ol_s4ax" d="M947.7 933.8C949.9 934.1 951.6 936.4 953.3 937.5C955 938.6 956.1 940.7 958 940.4C959.9 940 961.9 935.8 964.6 935.7C967.2 935.5 970.8 938.6 974 939.4C977.1 940.2 980.5 939.1 983.3 940.4C986.2 941.6 988 945.5 990.8 946.9C993.7 948.3 998 946.9 1000.2 948.8C1002.4 950.7 1001.8 955.7 1004 958.2C1006.2 960.7 1011.3 961.3 1013.4 963.8C1015.4 966.3 1016.2 969.8 1016.2 973.2C1016.2 976.7 1013.7 980.4 1013.4 984.5C1013.1 988.5 1013.1 993.9 1014.3 997.6C1015.6 1001.4 1018.7 1003.9 1020.9 1007C1023.1 1010.1 1025.7 1012.6 1027.5 1016.4C1029.2 1020.1 1030.3 1025.1 1031.2 1029.5C1032.1 1033.9 1032.6 1038.3 1033.1 1042.7C1033.6 1047 1034.2 1051.7 1034.4 1055.8C1034.6 1059.9 1034.5 1063 1034.2 1067.5C1033.8 1071.9 1033.4 1077.5 1032.3 1082.5C1031.1 1087.5 1029.2 1092.9 1027.3 1097.5C1025.4 1102 1023.5 1106.2 1021 1109.9C1018.5 1113.7 1015.4 1116.8 1012.3 1119.9C1009.2 1123 1005.6 1126.2 1002.3 1128.7C999 1131.2 996.1 1133.8 992.3 1134.9C988.6 1136.1 984 1134.9 979.8 1135.5C975.7 1136.2 971.5 1137.7 967.4 1138.7C963.2 1139.6 958.6 1141.1 954.9 1141.1C951.1 1141.2 948 1139.5 944.9 1138.9C941.8 1138.3 939.5 1138.3 936.1 1137.7C932.8 1137 928.4 1136.6 924.9 1134.9C921.4 1133.2 918.3 1129.5 914.9 1127.4C911.6 1125.3 908.3 1125.3 904.9 1122.4C901.6 1119.5 898.1 1114.5 895 1109.9C891.8 1105.4 888.7 1100.2 886.2 1095C883.7 1089.8 881.3 1083.7 880 1078.7C878.7 1073.7 878.6 1068.8 878.3 1065C878.1 1061.2 878.1 1059.5 878.2 1055.8C878.3 1052.1 878.5 1046.7 879.2 1042.7C879.8 1038.6 881.3 1035.2 882 1031.4C882.6 1027.7 881.8 1023.3 882.9 1020.1C884 1017 886.5 1015.4 888.5 1012.6C890.6 1009.8 894.5 1006.4 895.1 1003.2C895.7 1000.1 892.1 997.3 892.3 993.9C892.4 990.4 895.3 986.4 896 982.6C896.8 978.8 896.7 974.8 897 971.3C897.3 967.9 896.7 964.8 897.9 961.9C899.2 959.1 901.8 956.9 904.5 954.4C907.2 951.9 910.8 948.7 913.9 946.9C917 945.2 920.4 945.4 923.3 944.1C926.1 942.9 928 940.8 930.8 939.4C933.6 938 937.3 936.6 940.2 935.7C943 934.7 945.5 933.5 947.7 933.8Z"/>
<clipPath id="cp_s4ax"><use href="#ol_s4ax"/></clipPath>
<path id="sd_s4ax" d="M955.5 937.5L951.8 943.7L947.8 947.8L943.8 952L940.5 956.8M943.8 952L944.3 955L944.8 958M940.4 961.8L943.5 965.9L947.2 967.5M968 935L964.7 942.2L962.7 948.3L958.7 953.3L954.1 957.8M983.4 938.8L982.4 945.2L982 950.2L981.3 955.1L982.9 959.8M982.4 945.2L978.7 947.9L974.4 949.7M988 963L988 967.1L989.4 968.8M994.5 946.2L992.5 954.1L992.1 960.8L991.8 967.5L988.3 973.2M991.8 967.5L997.3 969.9L1001 974.4M1003.7 953.7L996.2 951.7L989.4 952.1L983.4 955.3L978.7 960.2M979.3 966.4L982.5 969.3L984.2 972.6M1016 965.2L1013 974.6M1010 979.1L1007.6 978.4L1004.4 979.9M1016.3 978.7L1007.1 982.9L999.7 987.4L992.6 992.5L984.9 996.4M977.3 994L975.6 991.7L972 987.2M1014.7 990L1006.5 990.3L1000 988.9L993.6 987L987.1 988.4M987.1 988.4L984 983.2L981.1 977.9M1020.1 1003.7L1014.5 1006.4L1009.9 1007.6L1005.1 1008.1L1000.8 1006.3M995.1 1000.9L995.5 997.3L996.4 996M1028.7 1015.5L1020.9 1018.1L1014.2 1018.3L1008.2 1021.3L1001.8 1023.2M1001.8 1023.2L998.7 1021L996.7 1017.9M996.4 1027.4L996.7 1030.6L997.2 1035.9M1032.8 1029.8L1023.8 1034.1L1016.2 1038.1L1008.5 1041.8L1001.8 1047.3M1016.2 1038.1L1015.5 1043.2L1014.2 1048.1M995.3 1050.7L995.8 1054L996.2 1059.3M1035 1046.2L1027.2 1044.8L1021 1043.3L1014.6 1043.9L1008.6 1041.6M1027.2 1044.8L1025.7 1041.6L1023.7 1038.8M1035.9 1063.1L1032 1057.6L1032.6 1051.8L1033.4 1046.1M1034.7 1077L1028.7 1078.7L1025.5 1082.8L1020.9 1085L1015.8 1084.9M1010.1 1088.3L1005.7 1091.7L1003.7 1093.1M1031.7 1089.9L1023 1084.9L1014.5 1084.9L1006.6 1087.9L998.1 1088M993.8 1083.2L989.4 1081.1L987.1 1080.6M1025.4 1105.3L1016.3 1102L1008.3 1104L1000.1 1104.8L991.9 1104.6M988.1 1107.9L987.3 1110.4L987.4 1112M1016.3 1118L1011.6 1112.8L1009.9 1107.7L1008.5 1102.4L1005.6 1097.8M1009.9 1107.7L1012.3 1104.8L1013.8 1101.4M1006.4 1092.4L1004 1088.5L1003 1085.4M1006.6 1127.2L999.9 1123.9L994.1 1122L988.6 1119.3L984.5 1114.6M992 1136.5L989.9 1131.3L988.2 1127.5L985.4 1124.5L982.1 1121.9M975 1138.2L975.2 1131.5L975.7 1126.4L975.8 1121.2L977.3 1116.2M958.9 1142.2L953.5 1135.8L947.3 1132L940.2 1131.3L933.4 1133.8M933.4 1133.8L929.2 1130.8L926.1 1126.8M945.1 1140.5L949.8 1134.8L954.1 1130.5L957.1 1125.2L962.4 1122.2M930.8 1138.2L934.8 1133.5L938.7 1130.4L941.9 1126.7L945.4 1123.2M945.1 1115.9L939.5 1112.9L936.4 1112.4M919.9 1133.3L922.7 1123.4L924.1 1114.7L928.3 1106.9L930.8 1098.4M929.7 1092.4L932 1088.6L935.5 1085.2M904.9 1124.3L910.7 1118L916.6 1114.2L921.3 1108.9L927.4 1105.4M897.3 1115.8L902.5 1108L903.5 1100L903.3 1092L905.4 1084.3M905.4 1084.3L911 1083.4L916.7 1083M888.6 1102.6L895 1097.9L897.8 1092L897.3 1085.6L896 1079.2M895 1097.9L898.3 1100.7L901.8 1103.2M898.9 1074.4L899.7 1071L897.9 1069.7M881.9 1089L886 1082.9L891 1079.6L894 1074.3L894.9 1068.3M894.7 1062L891.2 1058.2L887.4 1056.1M877.3 1071.4L884 1067.6L886.9 1062L887.7 1055.8L890.1 1050M884 1067.6L884.2 1061.4L882.9 1055.2M876.7 1056.7L883.6 1057.6L888.5 1060.2L893.8 1061.9L898.4 1065M877.9 1041.4L885.8 1042.9L892.2 1041.5L898.5 1043.5L905.1 1044M911.3 1043.6L913.6 1046.9L915.7 1047.6M880.8 1024.3L888.6 1024.4L894.9 1024.4L901.2 1024.7L907.2 1022.5M888.6 1024.4L890 1019.1L893.3 1014.7M887.2 1012L893.8 1016.5L897.7 1021.7L899.5 1028L904.2 1032.6M893.8 1016.5L896.8 1015.8L899.8 1015.4M891.8 997.6L898.5 997.8L903.2 1000.2L906.2 1004.5L907.3 1009.6M909.8 1014.7L914.2 1016.8L915.8 1020.1M893.7 985.1L900.7 991L908.3 992.8L916 993.6L923.1 990.5M900.7 991L900.1 997.4L896.6 1002.8M895.4 973.7L900.8 973.4L904.8 974.4L908 977L909.4 980.9M908.4 988.1L906.3 989.3L902.9 992.4M900 956.7L908.4 961.5L916.5 963.7L923.7 967.9L931.9 969.4M916.5 963.7L918.3 960.3L919.7 956.7M908.5 948.9L914.6 956.7L921.8 961L926.9 967.7L933.8 972.4M926.9 967.7L925.1 971.8L922.2 975.2M919.9 943.6L926.2 949.6L929.1 956.4L933.5 962.4L937.6 968.6M937.6 968.6L935.7 972.4L932.6 975.3M941.6 974.3L944.2 972.8L949.2 972.7M934.6 936.1L935.5 947L932.7 956L930.2 965.1L927.8 974.3M932.7 956L929.5 955.9L926.4 956.7M925.6 979.5L924.3 982.3L924.4 984.2" fill="none" stroke-linecap="round" stroke-linejoin="round"/>
<path id="ol_s5co" d="M1486.3 741.7C1488.8 742.4 1490 745.5 1492.1 745.6C1494.2 745.7 1496.1 743.3 1498.8 742.5C1501.5 741.7 1505 740.7 1508.2 740.6C1511.3 740.5 1514.7 740.6 1517.5 741.7C1520.4 742.8 1522.5 745.6 1525.3 747.2C1528.2 748.7 1531.6 749.5 1534.7 751.1C1537.8 752.6 1541.5 754.5 1544.1 756.5C1546.7 758.6 1548.2 761 1550.3 763.6C1552.4 766.2 1554.2 769.7 1556.6 772.2C1558.9 774.6 1561.9 776.1 1564.4 778.4C1566.8 780.7 1569.8 783.4 1571.4 786.2C1573 789.1 1572.8 792.5 1573.7 795.6C1574.6 798.7 1575.9 801.8 1576.9 805C1577.8 808.1 1578.9 811.2 1579.2 814.3C1579.5 817.4 1577.9 820.8 1578.4 823.7C1578.9 826.6 1581.3 828.4 1582.3 831.5C1583.4 834.6 1584.1 838.8 1584.7 842.4C1585.2 846.1 1585.6 849.7 1585.4 853.4C1585.3 857 1585.1 861.2 1583.9 864.3C1582.7 867.4 1580.6 869.9 1578.4 872.1C1576.2 874.3 1573.7 876.3 1570.6 877.6C1567.5 878.9 1563.1 879.5 1559.7 879.9C1556.3 880.3 1553.4 879.4 1550.3 879.9C1547.2 880.4 1544.1 882.8 1540.9 883C1537.8 883.3 1534.4 881.2 1531.6 881.5C1528.7 881.7 1526.1 883.3 1523.8 884.6C1521.4 885.9 1519.6 887.2 1517.5 889.3C1515.4 891.4 1513.4 894.7 1511.3 897.1C1509.2 899.4 1507.1 901.7 1505 903.3C1503 905 1500.7 906 1499 907C1497.3 908 1496.2 908.9 1495 909.5C1493.8 910.1 1492.8 910.5 1491.6 910.5C1490.4 910.5 1489.2 910.1 1488 909.5C1486.8 908.9 1486.1 908.3 1484.5 907C1482.9 905.7 1480.5 904.2 1478.5 901.8C1476.4 899.3 1474.3 895.3 1472.2 892.4C1470.2 889.5 1468.3 886.7 1466 884.6C1463.6 882.5 1461.3 880.9 1458.2 879.9C1455.1 878.9 1450.9 878.7 1447.3 878.3C1443.6 878 1440 878 1436.3 877.6C1432.7 877.2 1429 876.5 1425.4 876C1421.7 875.5 1417.6 875.6 1414.5 874.4C1411.3 873.3 1408.9 871.4 1406.7 869C1404.4 866.5 1402.5 863 1401.2 859.6C1399.9 856.2 1399.2 852.3 1398.8 848.7C1398.5 845 1398.7 841.1 1398.8 837.7C1399 834.4 1398.8 831 1399.6 828.4C1400.4 825.8 1402.5 824.5 1403.5 822.1C1404.6 819.8 1405.7 817.2 1405.9 814.3C1406 811.5 1404.2 808.6 1404.3 805C1404.4 801.3 1405.5 796.1 1406.7 792.5C1407.8 788.8 1409.3 786.2 1411.3 783.1C1413.4 780 1416.3 776.7 1419.1 773.7C1422 770.7 1425.4 767.5 1428.5 765.1C1431.6 762.8 1434.8 761.9 1437.9 759.7C1441 757.5 1444.1 753.9 1447.3 751.9C1450.4 749.8 1453.2 748.5 1456.6 747.2C1460 745.9 1464.2 745 1467.6 744.1C1470.9 743.1 1473.8 742.1 1476.9 741.7C1480 741.3 1483.8 741.1 1486.3 741.7Z"/>
<clipPath id="cp_s5co"><use href="#ol_s5co"/></clipPath>
<path id="sd_s5co" d="M1491.4 743.8L1488.8 754.4L1482.2 761.1L1477.5 769.2L1475.8 778.5M1482.2 761.1L1484.4 765.3L1484.3 770.2M1479 784.6L1479.1 787L1479.9 788.8M1505.1 739.4L1507.6 749.2L1513.4 755.5L1515.7 763.8L1521.8 769.8M1523.7 777.1L1523.1 779.3L1524.1 783.3M1522.7 743.4L1523 749L1524.2 753.4L1524.1 758L1523.5 762.5M1523 749L1526.4 750.5L1529.7 752.3M1524.5 767.6L1524.5 772.5L1523.7 776.1M1532.3 748.4L1532.2 754.8L1531.6 759.8L1531 764.8L1530.3 769.8M1531.6 759.8L1525.2 760.7L1518.8 761.6M1533.8 775.7L1533.7 778.1L1535 780.8M1547.2 757.4L1543.7 765L1541.3 771.5L1536.5 776.5L1531.8 781.6M1527.5 787.1L1523.8 787.3L1521.3 790.4M1557.6 771.1L1553.8 776.7L1550.3 780.8L1545.3 782.8L1540.1 783.9M1534.4 785.3L1532.5 785.1L1529.8 786M1568.3 780.1L1561.7 782.7L1557.8 786.8L1555.1 791.8L1553.4 797.3M1548.5 799.4L1546.2 800.1L1542.5 802.4M1575.1 794.9L1565.3 795.2L1557.9 791.5L1550.1 788.7L1542.1 786.3M1557.9 791.5L1554.7 792.4L1551.6 791.7M1534.9 788.9L1531.1 788.9L1530.3 791.1M1578.9 806.5L1572.8 805.9L1568.4 804.2L1564.4 801.7L1562.2 797.6M1572.8 805.9L1567.6 809L1564.4 814.1M1560.6 790.6L1559.7 787.5L1559.8 782.1M1579.9 821L1570.3 825.8L1561 827.2L1551.6 827.7L1542.2 826.7M1538.3 823.4L1538.4 821L1537.1 817.8M1583.7 830.8L1575.3 833.6L1568 833.5L1561 835.6L1554.7 839.3M1568 833.5L1566.4 829.1L1562.7 826.1M1586.7 846.7L1577.3 844.8L1569.2 844.6L1561.1 843.9L1554.3 839.6M1586.2 861.7L1579.4 859.2L1574.3 856.9L1570 853.2L1567.4 848.2M1566.3 843.1L1564.9 841.4L1566.4 837.4M1577.9 874.6L1572.1 869.4L1566 867.7L1561.3 863.5L1557.4 858.5M1555 853.3L1555.4 852.1L1556.7 849.3M1564.1 880.7L1563.1 873.3L1564.6 867.3L1565.4 861.3L1566.6 855.3M1564.6 867.3L1569.3 866.9L1573.7 865.3M1569.2 850.3L1572.6 849.1L1573.1 847.2M1549.8 881.5L1542.1 874.7L1537.3 867L1535.7 858.2L1537.8 849.5M1544.4 845.7L1545.1 843L1546.8 841.3M1534.1 883.2L1529.5 874.5L1526.7 866.5L1522.1 859.5L1519.4 851.5M1522.1 859.5L1517.2 859.6L1512.6 861.3M1518.9 844.9L1522.8 840.8L1526.4 839.4M1449.2 880L1452.2 872.6L1456.1 867.5L1457.1 861.1L1456 854.7M1452.2 872.6L1451 869.5L1449.1 866.7M1459.6 847.9L1460.2 843.7L1462.3 842.3M1435.2 878.9L1437.1 872.2L1437 866.7L1438.3 861.4L1441.1 856.7M1447.9 852.5L1452.7 852.1L1457.3 850.2M1420.4 876.9L1425.8 869.9L1432.2 866.4L1438.1 861.9L1445.2 860.2M1450.2 863.5L1452.4 864.6L1457.4 868.3M1408.6 872.8L1408.4 862.7L1407.2 853.7L1410.2 845L1408.6 836M1407.2 853.7L1413 850.9L1417.5 846.2M1411.6 830.6L1414.9 829.2L1415.4 826.3M1398.9 857.6L1408.3 856L1416.1 854.2L1424.1 854.9L1431.8 852.7M1437.9 851L1439.3 850.3L1443.4 848.2M1397.2 840.7L1404.1 840.6L1409.2 838.9L1414 836.4L1419.3 836.2M1419.3 836.2L1421.6 834L1424.2 832.1M1424.1 830.4L1427.3 832.5L1431.1 831.9M1400.8 823.7L1408.2 827.4L1412.5 832.7L1414 839.3L1418.3 844.6M1403.6 810.1L1409.3 808L1413.5 805.8L1415.9 801.8L1419.6 798.9M1419.6 798.9L1423.5 800.3L1426.6 803.1M1422.8 794.2L1425.4 792.6L1429.5 793.8M1404.8 793.6L1414.9 795.8L1423.5 798.3L1432.5 798.9L1441.4 798.5M1449.3 797.8L1453.4 795.1L1456.1 794.5M1410.9 781.1L1417.8 785.9L1424.6 787.2L1431.1 789.6L1435.8 794.7M1435.8 794.7L1433.8 799.2L1433.6 804.2M1418.7 772L1423.6 775.9L1428 777.6L1432.7 777.6L1437.2 779M1423.6 775.9L1429.2 772.7L1432.1 767M1427.4 764.1L1432.3 771.4L1437.3 776.8L1440.6 783.4L1444.3 789.7M1439.9 756.1L1445.3 760.8L1449.6 764.6L1452.8 769.3L1455.6 774.3M1455.6 774.3L1454 779.9L1454.9 785.5M1454.3 780.9L1453.4 785.9L1454.9 788.5M1454.1 746.6L1457.3 755.7L1462.6 761.8L1468.7 767.3L1476.1 770.7M1462.6 761.8L1462.3 767.8L1459.5 773.2M1483.4 770.3L1485.9 772.8L1488.3 775.8M1465 743.2L1463.9 753.9L1462.4 763.1L1460.8 772.3L1462.1 781.6M1462.1 781.6L1458.6 783.1L1454.9 782.6M1480.3 739.9L1485.3 748L1491.1 753.9L1498.2 758L1504.6 763.2" fill="none" stroke-linecap="round" stroke-linejoin="round"/>
<path id="ol_s5ax" d="M1476.6 915.7C1478.9 915.4 1483.2 914.6 1485 915.7C1486.8 916.8 1486.7 919.3 1487.5 922.3C1488.3 925.3 1489 933.5 1489.7 933.5C1490.5 933.5 1490.7 924.9 1492 922.3C1493.2 919.6 1494.8 918.7 1497.2 917.6C1499.7 916.5 1503.6 915.4 1506.6 915.7C1509.6 916 1512.6 918.1 1515.1 919.5C1517.6 920.9 1519.6 922.8 1521.6 924.2C1523.7 925.6 1525.1 926.8 1527.3 927.9C1529.5 929 1532.3 929.3 1534.8 930.7C1537.3 932.1 1540.7 934 1542.3 936.4C1543.8 938.7 1543.1 942.1 1544.2 944.8C1545.3 947.5 1547.3 950.1 1548.9 952.3C1550.4 954.5 1552.3 955.1 1553.5 957.9C1554.8 960.8 1556.1 965.8 1556.4 969.2C1556.7 972.7 1555 975.5 1555.4 978.6C1555.9 981.7 1557.9 984.5 1559.2 988C1560.4 991.4 1561.7 995.5 1562.9 999.2C1564.2 1003 1565.6 1007.1 1566.7 1010.5C1567.8 1014 1568.9 1017.1 1569.5 1019.9C1570.1 1022.7 1570.9 1024.3 1570.4 1027.4C1570 1030.5 1567.3 1034.9 1566.7 1038.7C1566.1 1042.4 1567.2 1046.2 1566.7 1049.9C1566.2 1053.7 1564.4 1058.3 1563.9 1061.2C1563.3 1064.1 1564.4 1065 1563.5 1067.5C1562.6 1070 1560 1073.3 1558.5 1076.2C1557.1 1079.1 1556.7 1082.9 1554.8 1085C1552.9 1087 1548.8 1086.8 1547.3 1088.7C1545.8 1090.6 1547.3 1093.9 1546.1 1096.2C1544.8 1098.5 1542.1 1100.4 1539.8 1102.4C1537.5 1104.5 1534.6 1106.6 1532.3 1108.7C1530 1110.8 1528.8 1113.4 1526.1 1114.9C1523.4 1116.5 1519.4 1117 1516.1 1118.1C1512.8 1119.1 1509.4 1120.5 1506.1 1121.2C1502.8 1121.8 1499 1122.2 1496.1 1121.8C1493.2 1121.4 1490.3 1120 1488.6 1118.7C1487 1117.3 1487.2 1114.1 1486.1 1113.7C1485.1 1113.3 1484.3 1114.9 1482.4 1116.2C1480.5 1117.4 1477.8 1120.2 1474.9 1121.2C1472 1122.1 1468.2 1122.2 1464.9 1121.8C1461.6 1121.4 1458 1120 1454.9 1118.7C1451.8 1117.3 1448.7 1115.8 1446.2 1113.7C1443.7 1111.6 1442.4 1108.9 1439.9 1106.2C1437.4 1103.5 1433.3 1100.6 1431.2 1097.5C1429.1 1094.3 1429.1 1090.8 1427.5 1087.5C1425.8 1084.1 1422.8 1081 1421.2 1077.5C1419.7 1073.9 1419.2 1069 1418.1 1066.2C1417 1063.5 1416 1063.9 1414.6 1061.2C1413.3 1058.5 1411 1053.7 1409.9 1049.9C1408.8 1046.2 1408.4 1042.4 1408.1 1038.7C1407.8 1034.9 1407.4 1031.2 1408.1 1027.4C1408.7 1023.7 1411 1019.6 1411.8 1016.1C1412.6 1012.7 1411.3 1009.3 1412.8 1006.8C1414.2 1004.3 1418.7 1003.9 1420.3 1001.1C1421.8 998.3 1421.5 993.3 1422.1 989.9C1422.8 986.4 1423.7 983.6 1424 980.5C1424.3 977.3 1423.1 973.3 1424 971.1C1425 968.9 1429.2 969.5 1429.7 967.3C1430.1 965.1 1426.8 960.8 1426.8 957.9C1426.8 955.1 1427.9 952.6 1429.7 950.4C1431.4 948.2 1435.6 947.3 1437.2 944.8C1438.7 942.3 1437.5 937.9 1439 935.4C1440.6 932.9 1444 932 1446.5 929.8C1449 927.6 1451.2 923.7 1454.1 922.3C1456.9 920.9 1460.6 922.1 1463.4 921.3C1466.3 920.6 1468.8 918.5 1471 917.6C1473.1 916.6 1474.2 916 1476.6 915.7Z"/>
<clipPath id="cp_s5ax"><use href="#ol_s5ax"/></clipPath>
<path id="sd_s5ax" d="M1486 914.6L1481.1 920.3L1478.6 925.9L1476.4 931.6L1472.6 936.4M1489.9 928.7L1486.9 935.1L1487.7 940.7L1488.4 946.3L1490.4 951.7M1490.1 923.8L1495.1 929.2L1496.6 934.8L1499.7 939.7L1500.9 945.4M1500.9 945.4L1507 947.1L1512.4 950.5M1505.2 914.2L1505.2 924.5L1503.2 933L1505.1 941.6L1510.7 948.4M1505.1 941.6L1501.8 943.3L1498.2 943.4M1515.6 950.4L1520.5 948.6L1523.3 949.6M1518 919.6L1514.6 924.7L1512.4 928.8L1512.5 933.5L1513.3 938.1M1529.2 927.1L1527.4 934L1524.8 939.1L1525.1 944.8L1523.4 950.2M1523.4 950.2L1525.9 953.4L1528 956.8M1541.6 933.4L1535.4 937.7L1529.3 937.9L1523.4 939.6L1517.4 938.2M1510.5 939.8L1508.3 941.2L1503.2 939.8M1546.8 946.7L1543.5 952.1L1540 955.5L1537.6 959.8L1534.3 963.4M1540 955.5L1541.4 958.8L1544.2 961.1M1555.9 959.9L1549.5 967.3L1542.7 972L1537.5 978.5L1530.8 983.6M1525.9 989.3L1522.8 991.2L1522.2 995.2M1557.3 974L1550 970.4L1543.3 969.3L1537.9 965.1L1533.1 960.1M1561.6 990.3L1554 993.1L1549 997.4L1543.1 1000.3L1538.6 1005.1M1538.6 1005.1L1534.1 1004.3L1529.6 1004.9M1565.6 1002.5L1556 1002.9L1548.1 1004.8L1540 1003.6L1532.6 1000.3M1540 1003.6L1537.5 1005.7L1536.7 1008.8M1530 995.2L1526.6 994.8L1523.3 991.7M1569.3 1013.7L1562.9 1021L1559.2 1028.8L1557.6 1037.3L1555.7 1045.7M1555.7 1045.7L1560.4 1048.1L1565.7 1047.9M1571.5 1029.3L1565.7 1029.7L1561.4 1031.2L1558.3 1034.3L1556.6 1038.4M1568.2 1044.9L1561.2 1041.9L1555.3 1039.7L1549.2 1040.5L1543.1 1038.9M1537.2 1036.9L1537.3 1031.8L1536.1 1029.5M1565.5 1060.5L1558.2 1058.3L1552.5 1055.9L1546.7 1053.9L1540.8 1052.2M1558.2 1058.3L1555.4 1053.3L1552.1 1048.5M1562.2 1073L1554.8 1067.8L1548.7 1063.3L1541.6 1060.8L1535.8 1056M1530.4 1050.8L1526 1047.8L1521.9 1046M1552.8 1087.8L1547.8 1078.2L1548.4 1068.9L1550.1 1059.7L1547 1050.9M1547.8 1078.2L1550.7 1075.1L1553.7 1072.3M1548.3 1044.8L1545 1041.2L1543.9 1036.9M1547.9 1095.2L1541.8 1093.6L1537 1092.7L1532.5 1090.9L1528.3 1088.3M1528.3 1088.3L1529.6 1083.5L1531.3 1078.9M1521.3 1084.6L1520.5 1084.2L1517.1 1083.6M1538.8 1105.3L1537.6 1098.1L1536.4 1092.3L1537.6 1086.4L1540 1081M1525.6 1116.9L1517.4 1113.7L1509.7 1114.1L1502.1 1112.4L1494.3 1112.7M1494.3 1112.7L1493.6 1115.8L1494.6 1118.9M1509.9 1121.7L1509.8 1113.7L1507.4 1107.5L1508 1100.9L1506.3 1094.5M1507.4 1107.5L1508.8 1104.1L1511.1 1101.3M1506.7 1089L1508.3 1085.9L1511 1083.9M1492.9 1122.5L1494.7 1114.1L1494.7 1106.9L1497.5 1100.3L1502.6 1095.2M1502.6 1095.2L1502.1 1090.2L1501.8 1085.1M1485.9 1115.1L1485.4 1109.4L1484.5 1105.3L1483.9 1101.2L1481.3 1097.9M1481.3 1097.9L1483.4 1093.4L1484.1 1088.4M1477.4 1121.7L1479.9 1112.4L1478.7 1104.2L1477.7 1096L1475 1088.1M1475 1088.1L1479.1 1083.4L1480.3 1077.3M1465.9 1123.4L1468 1118.1L1471 1115.1L1474.1 1112.2L1476.9 1109M1452.6 1119.3L1452 1112.6L1449.7 1107.7L1447.8 1102.6L1444.5 1098.3M1439.1 1107.5L1441.9 1102.2L1444.3 1098.2L1448 1095.5L1451.1 1092.2M1428.2 1094.3L1432.7 1088.9L1436.1 1084.4L1438.8 1079.3L1442.6 1075.1M1445.4 1068.7L1446.7 1064.3L1449.3 1061M1420.9 1080L1422.5 1070.7L1425.7 1062.9L1427.5 1054.7L1432.9 1048.1M1432.9 1048.1L1432.1 1042.7L1432.5 1037.3M1414.3 1063.6L1419.8 1058.5L1421.7 1052.9L1420.8 1047L1421.2 1041.1M1408.8 1051.5L1418.3 1053.5L1425 1058.8L1431.5 1064.2L1438.4 1069.2M1443.6 1068.1L1445.2 1068.4L1447.8 1069.8M1406.2 1033.9L1411.9 1031.5L1415.7 1028.7L1419.8 1026.4L1424 1024.4M1429.9 1020.1L1431.9 1018.1L1434 1015.5M1409.9 1017.5L1419.1 1017.7L1426.3 1014.8L1434 1013.7L1441.3 1011.1M1447.7 1010.3L1449.1 1012.3L1452.1 1016.4M1416.6 1002.4L1424.5 1009.9L1428.2 1018.6L1431.1 1027.5L1435.4 1035.9M1440.1 1038.4L1442.7 1040.8L1445.5 1043M1420.5 990.5L1430.3 988.9L1438.7 990.4L1445.3 995.9L1453.6 997.9M1422.2 973.5L1427 980.5L1428.4 987.9L1433.2 993.6L1439.8 997.1M1433.2 993.6L1439.2 993.5L1445.1 992.2M1447.1 995.3L1450.9 993.6L1456.5 992M1428 965.6L1434.2 965.9L1438.4 963.7L1441.2 959.9L1443.6 955.8M1448.5 951L1450.6 948.7L1453.6 949M1428.5 949.5L1437.1 955.2L1443.5 961.4L1447.6 969.2L1450.8 977.5M1436.7 940.1L1445.4 942.3L1452.8 941.9L1459.7 944.6L1466.5 947.8M1470.7 953.2L1469.3 954.8L1470.9 957.9M1446.4 927.9L1452.1 933L1454.3 938.8L1457 944.4L1460.2 949.8M1452.1 933L1455.9 930.3L1457.9 926.1M1457.2 920.1L1456.6 930.4L1452.4 938.3L1448.7 946.3L1444.3 954.1M1441.5 960.9L1440.1 965.1L1437.4 969.4M1468.8 917L1472.3 927.2L1477.8 934.7L1480.6 943.5L1484.9 951.7M1483.8 957.2L1483 962.1L1484.5 966.7" fill="none" stroke-linecap="round" stroke-linejoin="round"/>
<filter id="gy1" x="0" y="0" width="100%" height="100%" color-interpolation-filters="sRGB"><feTurbulence type="fractalNoise" baseFrequency="0.075" numOctaves="1" seed="21" result="n"/><feColorMatrix in="n" type="matrix" values="1 0 0 0 0 1 0 0 0 0 1 0 0 0 0 0 0 0 0 1" result="g"/><feComponentTransfer in="g" result="l"><feFuncR type="table" tableValues="1 1 1 1 1 1 1 .96 .88 .74 .52 .74 .88 .96 1 1 1 1 1 1 1"/><feFuncG type="table" tableValues="1 1 1 1 1 1 1 .96 .88 .74 .52 .74 .88 .96 1 1 1 1 1 1 1"/><feFuncB type="table" tableValues="1 1 1 1 1 1 1 .96 .88 .74 .52 .74 .88 .96 1 1 1 1 1 1 1"/></feComponentTransfer><feGaussianBlur in="l" stdDeviation="0.5" result="lb"/><feBlend in="lb" in2="SourceGraphic" mode="multiply" result="m"/><feComposite in="m" in2="SourceGraphic" operator="in"/></filter>
<path id="ol_s1lat" d="M860.1 224.8C860.5 221.5 861.5 217.4 862.9 213.3C864.3 209.2 866.1 203.9 868.7 200.3C871.4 196.7 875 194.8 878.8 191.7C882.6 188.6 886.9 184.9 891.7 181.6C896.5 178.2 902 174.5 907.5 171.6C913 168.7 918.8 166.4 924.8 164.4C930.8 162.4 936.8 160.5 943.5 159.3C950.2 158.1 959.8 157.8 965.1 157.2C970.4 156.6 970.3 156 975.1 156C979.9 156 988.3 156.3 993.8 157.2C999.3 158.1 1003.4 159.6 1008.2 161.5C1013 163.4 1017.8 165.6 1022.6 168.7C1027.4 171.8 1032.7 176.1 1037 180.2C1041.3 184.3 1045.2 188.6 1048.5 193.2C1051.8 197.8 1054.5 202.2 1057.1 207.5C1059.7 212.8 1062.4 219 1064.3 224.8C1066.2 230.6 1067.6 237.4 1068.6 242.1C1069.6 246.8 1070.4 248.1 1070.2 253C1070 257.9 1069.2 265.8 1067.4 271.5C1065.6 277.2 1062.4 282.7 1059.6 287.2C1056.8 291.7 1053.8 294.6 1050.6 298.4C1047.4 302.1 1044 306.3 1040.4 309.7C1036.8 313.1 1032.9 316.5 1029.2 318.7C1025.5 320.9 1021.5 322.1 1018 323.1C1014.5 324.1 1011.3 324.8 1007.9 324.8C1004.5 324.8 1000.4 322.8 997.8 323.1C995.2 323.4 994 325.6 992.1 326.5C990.2 327.4 988 328.8 986.5 328.8C985 328.8 983.9 327.8 983.1 326.5C982.3 325.2 982.2 323.1 981.5 320.9C980.8 318.6 980.1 315.4 978.7 313C977.3 310.6 974.9 307.7 973 306.3C971.1 304.9 969.8 304.6 967.4 304.6C965 304.6 961.6 305.8 958.4 306.3C955.2 306.8 951.7 307.7 948.3 307.4C944.9 307.1 941.4 306.1 938.2 304.6C935 303.1 931.8 300.9 929.2 298.4C926.6 295.9 924.2 292 922.5 289.4C920.8 286.8 921 284.8 919.1 282.7C917.2 280.6 914.4 278.9 911.2 277.1C908 275.3 904.2 274 900 272C895.8 270 890.5 267.7 886 265.1C881.5 262.5 876.6 260 873 256.4C869.4 252.8 866.4 247.3 864.4 243.5C862.4 239.7 861.5 236.5 860.8 233.4C860.1 230.3 859.8 228.2 860.1 224.8Z"/>
<clipPath id="cp_s1lat"><use href="#ol_s1lat"/></clipPath>
<radialGradient id="gr_s1lat" gradientUnits="userSpaceOnUse" cx="950" cy="215" r="125"><stop offset="0" stop-color="#b0adab"/><stop offset="0.55" stop-color="#9c9997"/><stop offset="1" stop-color="#7e7c7a"/></radialGradient>
<filter id="gy2" x="0" y="0" width="100%" height="100%" color-interpolation-filters="sRGB"><feTurbulence type="fractalNoise" baseFrequency="0.08" numOctaves="1" seed="34" result="n"/><feColorMatrix in="n" type="matrix" values="1 0 0 0 0 1 0 0 0 0 1 0 0 0 0 0 0 0 0 1" result="g"/><feComponentTransfer in="g" result="l"><feFuncR type="table" tableValues="1 1 1 1 1 1 1 .97 .9 .78 .6 .78 .9 .97 1 1 1 1 1 1 1"/><feFuncG type="table" tableValues="1 1 1 1 1 1 1 .97 .9 .78 .6 .78 .9 .97 1 1 1 1 1 1 1"/><feFuncB type="table" tableValues="1 1 1 1 1 1 1 .97 .9 .78 .6 .78 .9 .97 1 1 1 1 1 1 1"/></feComponentTransfer><feGaussianBlur in="l" stdDeviation="0.5" result="lb"/><feBlend in="lb" in2="SourceGraphic" mode="multiply" result="m"/><feComposite in="m" in2="SourceGraphic" operator="in"/></filter>
<path id="ol_s2lat" d="M1394.2 247.5C1394.2 244.2 1394.6 240.7 1395.7 237C1396.9 233.2 1398.9 228.7 1401 225C1403.1 221.2 1405.5 218.2 1408.5 214.5C1411.5 210.7 1415.2 206.2 1419 202.5C1422.7 198.7 1426.7 195.5 1431 192C1435.2 188.5 1439.7 184.7 1444.5 181.5C1449.2 178.2 1454.5 175 1459.5 172.5C1464.5 170 1469.5 168.1 1474.5 166.5C1479.5 164.9 1485.2 164 1489.5 162.7C1493.7 161.5 1497 159.9 1500 159C1503 158.1 1504.2 157.4 1507.5 157.2C1510.7 156.9 1515.5 156.9 1519.5 157.5C1523.5 158 1527.2 159 1531.5 160.5C1535.7 162 1540.7 164.2 1545 166.5C1549.2 168.7 1553 171.2 1557 174C1561 176.7 1565.2 179.7 1569 183C1572.7 186.2 1576.2 189.7 1579.5 193.5C1582.7 197.2 1585.7 201.5 1588.5 205.5C1591.2 209.5 1593.7 213.2 1596 217.5C1598.2 221.7 1600 226.2 1602 231C1604 235.7 1607 240.5 1608 246C1609 251.5 1609.6 260 1608 264C1606.4 268 1600.8 267.3 1598.4 270C1596.1 272.7 1595.1 276.6 1593.9 280.5C1592.7 284.4 1592.6 289.7 1591.2 293.6C1589.9 297.5 1588.6 301.5 1586 304.1C1583.4 306.7 1579.4 308 1575.5 309.3C1571.6 310.6 1566.8 311 1562.4 311.9C1558 312.9 1552.1 314.6 1549.3 315.2C1546.5 315.9 1546.5 314.7 1545.4 315.9C1544.3 317.1 1544.3 320.2 1542.7 322.4C1541.2 324.6 1538.2 327.7 1536.2 329C1534.2 330.3 1532.7 330.7 1530.9 330.3C1529.2 329.9 1527.2 328.3 1525.7 326.4C1524.2 324.4 1523.1 320.7 1521.8 318.5C1520.5 316.3 1519.8 314.6 1517.8 313.3C1515.9 311.9 1512.4 312.2 1510 310.6C1507.6 309.1 1505.6 305.5 1503.4 304.1C1501.2 302.7 1500.1 302.4 1496.9 302.1C1493.6 301.8 1487.3 302.4 1483.8 302.1C1480.3 301.8 1478.5 300.3 1475.9 300.1C1473.3 300 1471.1 301.6 1468 301.5C1465 301.3 1460.8 300.6 1457.5 299.5C1454.3 298.4 1451.2 296.2 1448.4 294.9C1445.5 293.6 1442.7 293.4 1440.5 291.6C1438.3 289.9 1438.3 285.9 1435.3 284.4C1432.2 282.9 1426.1 283.5 1422.1 282.5C1418.2 281.4 1415.2 279.8 1411.7 277.9C1408.2 275.9 1403 273 1401.2 270.7C1399.4 268.3 1401.9 266.4 1401 264C1400.1 261.6 1396.9 259.2 1395.7 256.5C1394.6 253.7 1394.2 250.7 1394.2 247.5Z"/>
<clipPath id="cp_s2lat"><use href="#ol_s2lat"/></clipPath>
<radialGradient id="gr_s2lat" gradientUnits="userSpaceOnUse" cx="1490" cy="225" r="125"><stop offset="0" stop-color="#cfcfcf"/><stop offset="0.6" stop-color="#b8b8b8"/><stop offset="1" stop-color="#9a9a9a"/></radialGradient>
</defs>
<!-- 10_brains.svg -->
<g id="s1ax">
<g filter="url(#wob)">
<g clip-path="url(#cp_s1ax)">
<g filter="url(#soft)">
<use href="#ol_s1ax" fill="#fefefe"/>
<use href="#ol_s1ax" fill="none" stroke="#b4b4b4" stroke-width="8" stroke-linejoin="round"/>
<use href="#sd_s1ax" stroke="#b0b0b0" stroke-width="9.5"/>
<path d="M905.9 399.6C905.5 403 903.4 413.7 904 420.2C904.6 426.8 908.7 435.9 909.6 439" fill="none" stroke="#999" stroke-width="12" stroke-linecap="round" stroke-linejoin="round"/>
<path d="M1020.4 392.1C1020.5 396.1 1022.1 408.3 1021.3 416.5C1020.5 424.6 1016.6 436.8 1015.7 440.9" fill="none" stroke="#8c8c8c" stroke-width="14" stroke-linecap="round" stroke-linejoin="round"/>
<path d="M954.7 369.5C955 372.7 955.9 382.7 956.5 388.3C957.2 393.9 958.1 400.8 958.4 403.3" fill="none" stroke="#999" stroke-width="8" stroke-linecap="round" stroke-linejoin="round"/>
<path d="M969.7 369.5C969.4 372.7 968.6 382.7 967.8 388.3C967 393.9 965.5 400.8 965 403.3" fill="none" stroke="#999" stroke-width="8" stroke-linecap="round" stroke-linejoin="round"/>
<path d="M932.1 399.6C934.6 398.6 939.7 403.6 941.5 407.1C943.4 410.5 944.3 415.8 943.4 420.2C942.5 424.6 938.4 429.3 935.9 433.4C933.4 437.4 930.3 445.3 928.4 444.6C926.5 444 924.9 434.9 924.6 429.6C924.3 424.3 925.3 417.7 926.5 412.7C927.8 407.7 929.6 400.5 932.1 399.6Z" fill="#d9d9d9"/>
<path d="M990.3 399.6C987.7 398.6 982.8 403.6 981 407.1C979.1 410.5 978.1 415.8 979.1 420.2C980 424.6 983.8 429.3 986.6 433.4C989.4 437.4 993.8 445.3 996 444.6C998.2 444 999.6 434.9 999.7 429.6C999.9 424.3 998.5 417.7 996.9 412.7C995.3 407.7 993 400.5 990.3 399.6Z" fill="#d9d9d9"/>
<path d="M943.4 395.8C944.3 394.9 949 400.2 950.9 403.3C952.8 406.5 954.5 412.3 954.7 414.6C954.8 416.9 953.4 418.4 951.9 417.4C950.3 416.5 946.7 412.6 945.3 409C943.9 405.4 942.5 396.8 943.4 395.8Z" fill="#cfcfcf"/>
<path d="M979.1 395.8C978.1 394.9 973.4 400.2 971.6 403.3C969.7 406.5 968 412.3 967.8 414.6C967.7 416.9 969.1 418.4 970.6 417.4C972.2 416.5 975.8 412.6 977.2 409C978.6 405.4 980 396.8 979.1 395.8Z" fill="#cfcfcf"/>
<path d="M934 452.1C935.9 449 946.5 444.6 950.9 444.6C955.3 444.6 959.4 449 960.3 452.1C961.2 455.3 960 461.5 956.5 463.4C953.1 465.3 943.4 465.3 939.7 463.4C935.9 461.5 932.1 455.3 934 452.1Z" fill="#e4e4e4"/>
<path d="M988.5 452.1C986.6 449 975.9 444.6 971.6 444.6C967.2 444.6 963.1 449 962.2 452.1C961.2 455.3 962.5 461.5 965.9 463.4C969.4 465.3 979.1 465.3 982.8 463.4C986.6 461.5 990.3 455.3 988.5 452.1Z" fill="#e4e4e4"/>
<use href="#sd_s1ax" stroke="#303030" stroke-width="2.5"/>
<path d="M962.2 340.4C962.1 343.7 961.8 353.7 961.8 360.2C961.8 366.6 962.2 373 962.2 378.9C962.2 384.9 961.9 393 961.8 395.8" fill="none" stroke="#555" stroke-width="2.2" stroke-linecap="round" stroke-linejoin="round"/>
<path d="M961.2 482.2C961.2 486.9 961.2 499.7 961.2 510.3C961.2 521 961.2 540.1 961.2 546" fill="none" stroke="#8a8a8a" stroke-width="1.6" stroke-linecap="round" stroke-linejoin="round"/>
<path d="M961.2 414.6L961.2 425.9" fill="none" stroke="#888" stroke-width="2.5" stroke-linecap="round" stroke-linejoin="round"/>
<path d="M905.9 399.6C906.3 402.1 908.4 409.6 908.7 414.6C909 419.6 907 425.2 907.7 429.6C908.5 434 912.4 439 913.4 440.9" fill="none" stroke="#444" stroke-width="2.2" stroke-linecap="round" stroke-linejoin="round"/>
<path d="M1018.5 390.2C1018.3 393.6 1018 404.3 1017.6 410.8C1017.1 417.4 1016.5 424 1015.7 429.6C1014.9 435.2 1013.3 442.1 1012.9 444.6" fill="none" stroke="#333" stroke-width="2.6" stroke-linecap="round" stroke-linejoin="round"/>
<path d="M929.3 470C931.3 468.2 937.8 467.6 941.5 466.8C945.3 465.9 950.7 463.8 951.9 464.9C953 466.1 950.5 471.2 948.7 473.7C946.8 476.3 943.2 478.7 940.6 480.3C938 481.9 934.9 483.6 933.1 483.1C931.3 482.6 930.5 479.7 929.9 477.5C929.3 475.3 927.4 471.8 929.3 470Z" fill="#333"/>
<path d="M970.6 465.7C971.6 464.6 977.4 465.9 981 466.8C984.5 467.7 990.3 468.7 992.2 470.9C994.2 473.2 994 479 992.6 480.3C991.2 481.6 986.6 479.6 983.8 478.4C980.9 477.2 977.5 475.3 975.3 473.2C973.1 471 969.7 466.7 970.6 465.7Z" fill="#333"/>
<path d="M961.2 452.1C963.4 452.1 967 461.1 967.8 463.4C968.6 465.8 967.8 465.8 965.9 466.2C964.1 466.7 958.4 466.7 956.5 466.2C954.7 465.8 953.9 465.8 954.7 463.4C955.5 461.1 959 452.1 961.2 452.1Z" fill="#666"/>
</g>
<use href="#ol_s1ax" fill="none" stroke="#2c2c2c" stroke-width="2.2" stroke-opacity="0.75" filter="url(#soft0)"/>
</g>
<path d="M943.5 335.9h0M958.3 338.8h0M968.7 335.4h0M984 338.8h0M994 349.8h0M1002.1 359.4h0M1019.8 361.5h0M1030.1 373h0M1028.5 385.6h0M1034.5 401.5h0M1039.1 414.2h0M1045.9 425.6h0M1049.5 437.4h0M1052.7 452.4h0M1051.8 470.4h0M1049.2 481.8h0M1045.1 493.9h0M1040 505.4h0M1030.1 519.4h0M1020.8 528.8h0M1008.2 538.2h0M997.8 543.1h0M981.6 548h0M968.6 549.2h0M951.6 549h0M937.8 546.9h0M924.6 542.3h0M909.1 533.5h0M900.6 526h0M892 516.6h0M884.6 506.5h0M877.9 491.7h0M873.9 477.8h0M871.2 463.8h0M872.1 447.7h0M876 430.7h0M880.3 418.7h0M887 406.5h0M897.3 394.6h0M898.5 384.5h0M896 371h0M903.8 358.8h0M918.7 349h0M931.6 344.6h0" stroke="#fff" stroke-width="3.4" stroke-linecap="round" fill="none" filter="url(#soft0)"/>
</g>
<path d="M887.1 439L1046.7 439.4" stroke="#a0a0a0" stroke-width="0.6" stroke-opacity="0.4" fill="none"/>
<path d="M961.2 467.2L961.2 546" stroke="#a0a0a0" stroke-width="0.6" stroke-opacity="0.4" fill="none"/>
<path d="M888 470.9L915.2 434.3" stroke="#000" stroke-width="3.6" stroke-linecap="round" fill="none"/><path d="M901.5 453.1L913 437.7" stroke="#DC2A1A" stroke-width="6.2" stroke-linecap="round" fill="none"/>
</g>
<g id="s2ax">
<g filter="url(#wob)">
<g clip-path="url(#cp_s2ax)">
<g filter="url(#soft)">
<use href="#ol_s2ax" fill="#fefefe"/>
<use href="#ol_s2ax" fill="none" stroke="#b4b4b4" stroke-width="8" stroke-linejoin="round"/>
<use href="#sd_s2ax" stroke="#b4b4b4" stroke-width="9.5"/>
<path d="M1454.1 397.9C1453.7 401.1 1451.9 410.2 1452.2 416.7C1452.5 423.3 1454.4 430.8 1455.9 437.4C1457.5 443.9 1460.6 453 1461.6 456.1" fill="none" stroke="#8a8a8a" stroke-width="9" stroke-linecap="round" stroke-linejoin="round"/>
<path d="M1562.9 397.9C1563.2 401.4 1565.1 412 1564.8 418.6C1564.5 425.2 1562.9 431.1 1561.1 437.4C1559.2 443.6 1554.8 453 1553.5 456.1" fill="none" stroke="#777" stroke-width="10" stroke-linecap="round" stroke-linejoin="round"/>
<path d="M1501 362.3C1500.7 365.1 1499 374.2 1499.1 379.2C1499.3 384.2 1501.5 390.1 1501.9 392.3" fill="none" stroke="#999" stroke-width="7" stroke-linecap="round" stroke-linejoin="round"/>
<path d="M1512.2 362.3C1512.4 365.1 1513.7 374.2 1513.2 379.2C1512.7 384.2 1510.1 390.1 1509.4 392.3" fill="none" stroke="#999" stroke-width="7" stroke-linecap="round" stroke-linejoin="round"/>
<path d="M1471 403.6C1473.6 400.8 1478.5 398.7 1482.2 397.9C1486 397.2 1490.3 397.6 1493.5 398.9C1496.6 400.1 1500.4 403.4 1501 405.5C1501.6 407.5 1499.7 410.5 1497.2 411.1C1494.7 411.7 1489.1 408.6 1486 409.2C1482.8 409.8 1480.6 411.4 1478.5 414.8C1476.3 418.3 1474.4 425.2 1472.8 429.9C1471.3 434.6 1470.3 443 1469.1 443C1467.8 443 1465.8 434.6 1465.3 429.9C1464.8 425.2 1465.3 419.2 1466.3 414.8C1467.2 410.5 1468.3 406.4 1471 403.6Z" fill="#cfcfcf"/>
<path d="M1540.4 403.6C1537.7 400.8 1532.9 398.7 1529.1 397.9C1525.4 397.2 1521 397.6 1517.9 398.9C1514.8 400.1 1511 403.4 1510.4 405.5C1509.7 407.5 1511.6 410.5 1514.1 411.1C1516.6 411.7 1522.3 408.6 1525.4 409.2C1528.5 409.8 1530.7 411.4 1532.9 414.8C1535.1 418.3 1537 425.2 1538.5 429.9C1540.1 434.6 1541 443 1542.3 443C1543.5 443 1545.6 434.6 1546 429.9C1546.5 425.2 1546 419.2 1545.1 414.8C1544.2 410.5 1543.1 406.4 1540.4 403.6Z" fill="#cfcfcf"/>
<path d="M1482.2 452.4C1483.8 449.9 1490 448 1493.5 448.6C1496.9 449.3 1502.2 453.3 1502.9 456.1C1503.5 459 1500.4 464.3 1497.2 465.5C1494.1 466.8 1486.6 465.8 1484.1 463.7C1481.6 461.5 1480.6 454.9 1482.2 452.4Z" fill="#e2e2e2"/>
<path d="M1529.1 452.4C1527.6 449.9 1521.5 448 1517.9 448.6C1514.3 449.3 1508.2 453.3 1507.6 456.1C1506.9 459 1510.8 464.3 1514.1 465.5C1517.4 466.8 1524.8 465.8 1527.3 463.7C1529.8 461.5 1530.7 454.9 1529.1 452.4Z" fill="#e2e2e2"/>
<use href="#sd_s2ax" stroke="#3c3c3c" stroke-width="2.4"/>
<path d="M1506.6 353.8C1506.6 357.1 1506.4 366.5 1506.2 373.5C1506.1 380.6 1505.8 388.2 1505.7 396.1C1505.5 403.9 1505.4 416.4 1505.3 420.5" fill="none" stroke="#555" stroke-width="2.0" stroke-linecap="round" stroke-linejoin="round"/>
<path d="M1504.7 480.5C1504.7 486.2 1504.7 502.8 1504.7 514.3C1504.8 525.9 1505.1 544.1 1505.1 550" fill="none" stroke="#666" stroke-width="1.8" stroke-linecap="round" stroke-linejoin="round"/>
<path d="M1505.1 424.2L1505.1 435.5" fill="none" stroke="#444" stroke-width="3.0" stroke-linecap="round" stroke-linejoin="round"/>
<path d="M1489.7 463.7C1492.3 462.7 1499.8 458 1505.1 458C1510.4 458 1518.9 462.7 1521.6 463.7" fill="none" stroke="#777" stroke-width="3.0" stroke-linecap="round" stroke-linejoin="round"/>
<path d="M1475.6 478.7C1475.8 477.2 1476.6 473.8 1478.5 472.1C1480.3 470.4 1485.2 468.5 1486.9 468.3C1488.6 468.2 1489.4 469.6 1488.8 471.2C1488.2 472.7 1485 476.1 1483.2 477.7C1481.3 479.4 1478.8 480.8 1477.5 480.9C1476.3 481.1 1475.5 480.1 1475.6 478.7Z" fill="#3c3c3c"/>
<path d="M1523.5 469.3C1524.7 469.4 1528.3 470.7 1530.1 472.1C1531.9 473.5 1533.9 476.3 1534.4 477.7C1534.9 479.2 1534.1 481.1 1532.9 480.9C1531.7 480.8 1528.9 478.4 1527.3 476.8C1525.6 475.2 1523.8 472.8 1523.1 471.5C1522.5 470.3 1522.4 469.2 1523.5 469.3Z" fill="#3c3c3c"/>
</g>
<use href="#ol_s2ax" fill="none" stroke="#2c2c2c" stroke-width="2.2" stroke-opacity="0.75" filter="url(#soft0)"/>
</g>
<path d="M1507.8 349.4h0M1521.6 346.7h0M1532.2 358.1h0M1546.1 362.6h0M1558.2 362.5h0M1572.7 362.7h0M1577 374.5h0M1576.6 391.8h0M1576.5 409.1h0M1580.3 421.6h0M1584.2 437h0M1588.4 452.9h0M1589.8 464.1h0M1588.9 476.5h0M1586.6 489.5h0M1580.6 506.7h0M1572.2 520.9h0M1562.9 531.5h0M1551.1 540.9h0M1539.4 546.6h0M1521.8 550.9h0M1505.9 551.8h0M1489.8 548.8h0M1475.1 543.4h0M1461.4 535.3h0M1448.2 523.9h0M1439.9 515.3h0M1430.7 503.2h0M1424.6 487.7h0M1422.7 472.1h0M1418.3 456.6h0M1422.4 439.5h0M1429 423.7h0M1434.5 411.1h0M1439.9 397.2h0M1444.9 385.1h0M1446.1 374h0M1450.9 362.3h0M1461.9 365.3h0M1473.5 365.4h0M1485 357.5h0" stroke="#fff" stroke-width="3.4" stroke-linecap="round" fill="none" filter="url(#soft0)"/>
</g>
<path d="M1467.2 445.4L1557.3 445.4" stroke="#a0a0a0" stroke-width="0.6" stroke-opacity="0.4" fill="none"/>
<path d="M1505.1 463.7L1505.1 550" stroke="#a0a0a0" stroke-width="0.6" stroke-opacity="0.4" fill="none"/>
<circle cx="1422.1" cy="449.2" r="2.1" fill="#000"/><circle cx="1430.4" cy="444.3" r="2.1" fill="#000"/><circle cx="1434.9" cy="442.1" r="2.1" fill="#000"/><circle cx="1440" cy="439.8" r="2.1" fill="#000"/><circle cx="1449.9" cy="437" r="2.1" fill="#000"/><circle cx="1454.8" cy="436.4" r="2.1" fill="#000"/><circle cx="1459.3" cy="435.5" r="2.1" fill="#000"/><circle cx="1463.4" cy="434.9" r="2.1" fill="#000"/><circle cx="1425.9" cy="446.2" r="2.0" fill="#DC2A1A"/><circle cx="1445" cy="438.7" r="2.0" fill="#DC2A1A"/>
</g>
<g id="s3co">
<g filter="url(#wob)">
<g clip-path="url(#cp_s3co)">
<g filter="url(#soft)">
<use href="#ol_s3co" fill="#fefefe"/>
<use href="#ol_s3co" fill="none" stroke="#bcbcbc" stroke-width="8" stroke-linejoin="round"/>
<use href="#sd_s3co" stroke="#c0c0c0" stroke-width="9.5"/>
<path d="M329 816.2C331.6 816.7 340.2 817.2 344.7 819.3C349.1 821.4 353.8 827.1 355.6 828.7" fill="none" stroke="#aaa" stroke-width="10" stroke-linecap="round" stroke-linejoin="round"/>
<path d="M446.2 816.2C448.2 817.2 455.5 819.3 458.6 822.4C461.8 825.6 463.8 832.9 464.9 834.9" fill="none" stroke="#aaa" stroke-width="10" stroke-linecap="round" stroke-linejoin="round"/>
<path d="M377.4 828.7C379.3 826.3 386.8 826.1 389.9 827.1C393.1 828.2 396.2 832.3 396.2 834.9C396.2 837.5 392.8 841.7 389.9 842.7C387.1 843.8 381.1 843.5 379 841.2C376.9 838.8 375.6 831 377.4 828.7Z" fill="#e9e9e9"/>
<path d="M422.7 828.7C420.9 826.3 414.9 826.1 411.8 827.1C408.7 828.2 404 832.3 404 834.9C404 837.5 408.7 841.7 411.8 842.7C414.9 843.8 420.9 843.5 422.7 841.2C424.6 838.8 424.6 831 422.7 828.7Z" fill="#e9e9e9"/>
<use href="#sd_s3co" stroke="#6a6a6a" stroke-width="2.8"/>
<path d="M396.7 748.3C396.7 751.3 396.8 759.9 397 766.2C397.1 772.6 397.6 783.1 397.7 786.5" fill="none" stroke="#666" stroke-width="2.0" stroke-linecap="round" stroke-linejoin="round"/>
<path d="M383.7 786.5C385 785.7 388.9 782.4 391.5 781.8C394.1 781.3 396.4 783.7 399.3 783.4C402.2 783.1 405.8 780 408.7 780.3C411.5 780.5 415.2 784.2 416.5 785" fill="none" stroke="#8a8a8a" stroke-width="5" stroke-linecap="round" stroke-linejoin="round"/>
<path d="M389.9 797.5C391.5 798 396.2 800.6 399.3 800.6C402.4 800.6 407.1 798 408.7 797.5" fill="none" stroke="#9a9a9a" stroke-width="4" stroke-linecap="round" stroke-linejoin="round"/>
<path d="M400.1 828.7L400.6 842.7" fill="none" stroke="#555" stroke-width="7" stroke-linecap="round" stroke-linejoin="round"/>
<path d="M371.2 863C372.2 864.3 376.7 867.7 377.4 870.9C378.2 874 376.1 880 375.9 881.8" fill="none" stroke="#777" stroke-width="5" stroke-linecap="round" stroke-linejoin="round"/>
<path d="M427.4 859.9C426.6 861.5 423 865.9 422.7 869.3C422.5 872.7 425.3 878.4 425.9 880.2" fill="none" stroke="#777" stroke-width="5" stroke-linecap="round" stroke-linejoin="round"/>
<path d="M374.3 808.4C374.5 806.2 375.4 804.2 377.4 803.7C379.5 803.2 383.4 804 386.8 805.3C390.2 806.6 394.1 811.5 397.7 811.5C401.4 811.5 405 806.8 408.7 805.3C412.3 803.7 416.5 802.1 419.6 802.1C422.7 802.1 426 803.7 427.4 805.3C428.8 806.8 428.7 809.2 428.2 811.5C427.7 813.9 426.5 817 424.3 819.3C422.1 821.7 418 824 414.9 825.6C411.8 827.1 408 829.6 405.6 828.7C403.1 827.8 402.2 820.2 400.1 820.1C398 820 395.8 827.1 393.1 827.9C390.3 828.7 386.4 826.6 383.7 824.8C381 823 378.2 819.7 376.7 817C375.1 814.2 374.2 810.6 374.3 808.4Z" fill="#383838"/>
</g>
<use href="#ol_s3co" fill="none" stroke="#333" stroke-width="2.4" stroke-opacity="0.75" filter="url(#soft0)"/>
</g>
<path d="M383.7 742.1h0M394.9 746.2h0M407 744.2h0M419.2 742.2h0M432.9 744.3h0M443.9 752.1h0M457.3 759.7h0M465.7 768.8h0M476.3 777.9h0M485.4 790.2h0M485.6 805.1h0M485.8 822.3h0M493 838.3h0M494.5 851.8h0M491.9 866h0M482.9 875.9h0M472.1 879.5h0M460.1 883.7h0M445.7 884.8h0M370.7 886.5h0M359.1 890.3h0M342.1 891.1h0M327.8 888.4h0M315.7 879.2h0M308.4 866.8h0M307.8 854.3h0M308.2 839.3h0M309.8 826.7h0M313.8 809.4h0M316.4 792h0M323 781.4h0M332.1 770.4h0M342.2 766.2h0M350.1 756.2h0M360.2 751.3h0M374.2 745.2h0" stroke="#fff" stroke-width="3.4" stroke-linecap="round" fill="none" filter="url(#soft0)"/>
</g>
<path d="M347.8 846.8L458.6 846.8" stroke="#a0a0a0" stroke-width="0.6" stroke-opacity="0.4" fill="none"/>
<path d="M500.8 846.8L532.8 846.8" stroke="#a0a0a0" stroke-width="0.6" stroke-opacity="0.4" fill="none"/>
<path d="M398.5 685L398.5 899" stroke="#a0a0a0" stroke-width="0.6" stroke-opacity="0.4" fill="none"/>
<path d="M313.4 844L361.8 833.4" stroke="#000" stroke-width="3.2" stroke-linecap="round" fill="none"/><circle cx="340" cy="845.4" r="1.8" fill="#000"/><circle cx="344.7" cy="850.1" r="1.8" fill="#000"/><circle cx="350.6" cy="855.2" r="1.8" fill="#000"/><circle cx="355.3" cy="859.1" r="1.8" fill="#000"/><circle cx="360.3" cy="863" r="1.8" fill="#000"/><circle cx="365.7" cy="867.7" r="1.8" fill="#000"/><circle cx="312.3" cy="825.6" r="2.0" fill="#000"/><circle cx="330.3" cy="838.4" r="2.2" fill="#000"/><circle cx="334.2" cy="842" r="2.2" fill="#000"/><circle cx="327" cy="820.4" r="3.0" fill="#BE2428"/><circle cx="318.6" cy="829.9" r="2.5" fill="#BE2428"/><circle cx="323.3" cy="832.9" r="2.5" fill="#BE2428"/><circle cx="343.1" cy="837.3" r="2.5" fill="#BE2428"/><path d="M437.6 827.9L466.5 815.4" stroke="#000" stroke-width="3.2" stroke-linecap="round" fill="none"/><path d="M468 814.6L483 808.7" stroke="#BE2428" stroke-width="4.6" stroke-linecap="round" fill="none"/><circle cx="427.4" cy="868.8" r="1.9" fill="#000"/><circle cx="434" cy="866.5" r="1.9" fill="#000"/><circle cx="439.9" cy="863.5" r="1.9" fill="#000"/><circle cx="445.7" cy="859.9" r="1.9" fill="#000"/><circle cx="450.8" cy="856.3" r="1.9" fill="#000"/><circle cx="456.8" cy="852.9" r="1.9" fill="#000"/><circle cx="462.2" cy="849" r="1.9" fill="#000"/><circle cx="467.5" cy="845.6" r="2.5" fill="#BE2428"/><circle cx="473.2" cy="841.7" r="2.5" fill="#BE2428"/><circle cx="478.9" cy="837.3" r="2.5" fill="#BE2428"/><circle cx="484.4" cy="833.4" r="2.5" fill="#BE2428"/>
</g>
<g id="s3ax">
<g filter="url(#wob)">
<g clip-path="url(#cp_s3ax)">
<g filter="url(#soft)">
<use href="#ol_s3ax" fill="#fefefe"/>
<use href="#ol_s3ax" fill="none" stroke="#b4b4b4" stroke-width="8" stroke-linejoin="round"/>
<use href="#sd_s3ax" stroke="#b8b8b8" stroke-width="9.5"/>
<path d="M351.4 969.8C351.1 972.6 348.9 981.1 349.5 986.7C350.1 992.4 354.2 1000.8 355.1 1003.6" fill="none" stroke="#777" stroke-width="8" stroke-linecap="round" stroke-linejoin="round"/>
<path d="M449 969.8C449.6 972.6 452 981.7 452.7 986.7C453.5 991.7 453.5 997.7 453.7 999.9" fill="none" stroke="#777" stroke-width="8" stroke-linecap="round" stroke-linejoin="round"/>
<path d="M394.5 934.2C394.2 936.7 392.5 943.9 392.7 949.2C392.8 954.5 395 963.3 395.5 966.1" fill="none" stroke="#a0a0a0" stroke-width="7" stroke-linecap="round" stroke-linejoin="round"/>
<path d="M406.7 934.2C407.1 936.7 408.9 943.9 408.6 949.2C408.3 954.5 405.5 963.3 404.9 966.1" fill="none" stroke="#a0a0a0" stroke-width="7" stroke-linecap="round" stroke-linejoin="round"/>
<path d="M372 977.3C375 975.8 379.8 974.8 383.3 975.5C386.7 976.1 391.7 978.9 392.7 981.1C393.6 983.3 391.1 987.7 388.9 988.6C386.7 989.5 382.3 985.8 379.5 986.7C376.7 987.7 374.2 990.8 372 994.2C369.8 997.7 368 1007.1 366.4 1007.4C364.8 1007.7 362.8 999.9 362.6 996.1C362.5 992.4 363.9 988 365.4 984.8C367 981.7 369 978.9 372 977.3Z" fill="#cfcfcf"/>
<path d="M428.3 977.3C425.4 975.8 420.5 974.8 417.1 975.5C413.6 976.1 408.6 978.9 407.7 981.1C406.7 983.3 409.3 987.7 411.4 988.6C413.6 989.5 418 985.8 420.8 986.7C423.6 987.7 426.1 990.8 428.3 994.2C430.5 997.7 432.4 1007.1 434 1007.4C435.5 1007.7 437.6 999.9 437.7 996.1C437.9 992.4 436.5 988 434.9 984.8C433.3 981.7 431.3 978.9 428.3 977.3Z" fill="#cfcfcf"/>
<path d="M373.9 999.9C375.8 995.8 384.8 993.6 388.9 994.2C393 994.9 397.7 999.5 398.3 1003.6C398.9 1007.7 396.1 1016.1 392.7 1018.6C389.2 1021.1 380.8 1021.8 377.7 1018.6C374.5 1015.5 372 1003.9 373.9 999.9Z" fill="#ececec"/>
<path d="M426.5 999.9C424.6 995.8 415.5 993.6 411.4 994.2C407.4 994.9 402.7 999.5 402.1 1003.6C401.4 1007.7 404.2 1016.1 407.7 1018.6C411.1 1021.1 419.6 1021.8 422.7 1018.6C425.8 1015.5 428.3 1003.9 426.5 999.9Z" fill="#ececec"/>
<use href="#sd_s3ax" stroke="#585858" stroke-width="2.8"/>
<path d="M400.2 913.5C400.2 917.6 400.1 929.8 400.2 937.9C400.3 946 400.6 958.2 400.7 962.3" fill="none" stroke="#666" stroke-width="2.2" stroke-linecap="round" stroke-linejoin="round"/>
<path d="M400.2 990.5C400.2 993.3 400.2 1002.1 400.2 1007.4C400.2 1012.7 400.2 1019.9 400.2 1022.4" fill="none" stroke="#555" stroke-width="3.5" stroke-linecap="round" stroke-linejoin="round"/>
<path d="M403 1084.3C403.5 1087.5 404.9 1097.2 405.8 1103.1C406.7 1109.1 408.2 1117.2 408.6 1120" fill="none" stroke="#777" stroke-width="1.8" stroke-linecap="round" stroke-linejoin="round"/>
<path d="M379.5 1032.7C380.5 1031.5 387.4 1035.2 390.8 1036.5C394.2 1037.7 397 1040.2 400.2 1040.2C403.3 1040.2 406.1 1037.7 409.6 1036.5C413 1035.2 419.7 1031.5 420.8 1032.7C421.9 1034 417.9 1040.4 416.1 1044C414.4 1047.6 411.8 1050.4 410.5 1054.3C409.3 1058.2 409.7 1062.9 408.6 1067.4C407.6 1072 405.7 1078.5 404.3 1081.5C402.9 1084.5 401.6 1085.3 400.2 1085.3C398.8 1085.3 397.4 1084.5 396 1081.5C394.7 1078.5 393.2 1072 392.3 1067.4C391.4 1062.9 391.7 1058.2 390.4 1054.3C389.2 1050.4 386.6 1047.6 384.8 1044C383 1040.4 378.5 1034 379.5 1032.7Z" fill="#484848"/>
<path d="M360.8 1037.4C361.9 1036 364 1034.6 365.4 1035.5C366.9 1036.5 368.7 1039.9 369.2 1043C369.7 1046.2 369 1051.6 368.3 1054.3C367.5 1057 365.9 1059.3 364.5 1059C363.1 1058.7 360.8 1054.9 359.8 1052.4C358.9 1049.9 358.7 1046.5 358.9 1044C359 1041.5 359.7 1038.8 360.8 1037.4Z" fill="#3a3a3a"/>
<path d="M430.2 1039.3C431.5 1037.9 434.4 1036.3 435.8 1037.4C437.3 1038.5 438.3 1042.7 438.7 1045.9C439 1049 438.7 1053.5 437.7 1056.2C436.8 1058.8 434.4 1062.1 433 1061.8C431.6 1061.5 430.1 1057 429.3 1054.3C428.5 1051.6 428.2 1048.4 428.3 1045.9C428.5 1043.4 429 1040.7 430.2 1039.3Z" fill="#3a3a3a"/>
</g>
<use href="#ol_s3ax" fill="none" stroke="#333" stroke-width="2.4" stroke-opacity="0.75" filter="url(#soft0)"/>
<path d="M394.9 1060.9L405.4 1059.9M394.5 1065.9L405.8 1065.2M395.3 1071.2L405.1 1070.4M396.4 1075.9L403.9 1075.3" stroke="#d8d8d8" stroke-width="1.6" fill="none" filter="url(#soft0)"/>
</g>
<path d="M399.5 908.5h0M412.2 910.7h0M427.6 916.5h0M439.8 920.2h0M447.6 929h0M458.2 940.9h0M461.3 955.1h0M458.7 967.3h0M463.3 979.5h0M471.9 993.1h0M475.9 1005.7h0M478.7 1016.8h0M479.9 1029.1h0M479.1 1042.9h0M477 1058.9h0M472.2 1070.4h0M465.2 1083.2h0M459.2 1094.6h0M451.5 1104.2h0M439.4 1114.5h0M425.9 1122.8h0M408.3 1118.5h0M392.8 1122.8h0M377.9 1123.4h0M366.3 1120.7h0M354.9 1114.6h0M343.2 1101.9h0M335.5 1091.2h0M325.9 1079.1h0M321.6 1063.4h0M320.7 1051.9h0M319.4 1040.3h0M319.5 1022.4h0M322.2 1011.1h0M329 994.3h0M335.5 982.8h0M341.1 973.2h0M341.2 962.2h0M341.2 947.9h0M349.9 934.9h0M357.5 925.9h0M368.1 919.4h0M381.4 912.8h0" stroke="#fff" stroke-width="3.4" stroke-linecap="round" fill="none" filter="url(#soft0)"/>
</g>
<path d="M366.4 1023.9L510.9 1012.6" stroke="#a0a0a0" stroke-width="0.6" stroke-opacity="0.4" fill="none"/>
<path d="M394.2 911.6L409.2 1120" stroke="#a0a0a0" stroke-width="0.6" stroke-opacity="0.4" fill="none"/>
<path d="M327.9 1004.6L367.9 1016.2" stroke="#000" stroke-width="3.0" stroke-linecap="round" fill="none"/><circle cx="352.3" cy="1011.1" r="2.5" fill="#BE2428"/><circle cx="327.5" cy="1025.2" r="2.5" fill="#BE2428"/><circle cx="332.6" cy="1024.3" r="2.5" fill="#BE2428"/><circle cx="337.9" cy="1024.3" r="2.5" fill="#BE2428"/><circle cx="342.9" cy="1024.6" r="1.8" fill="#000"/><circle cx="348.2" cy="1024.3" r="1.8" fill="#000"/><circle cx="353.8" cy="1023.7" r="1.8" fill="#000"/><circle cx="359.4" cy="1023.1" r="1.8" fill="#000"/><circle cx="366.4" cy="1022.4" r="1.8" fill="#000"/><circle cx="372.4" cy="1021.8" r="1.8" fill="#000"/><circle cx="378.6" cy="1020.9" r="1.8" fill="#000"/><circle cx="384.8" cy="1019.9" r="1.8" fill="#000"/><path d="M433 1017.3L456.5 1009.2" stroke="#000" stroke-width="3.0" stroke-linecap="round" fill="none"/><path d="M458 1008.7L473.8 1004.2" stroke="#BE2428" stroke-width="4.2" stroke-linecap="round" fill="none"/><circle cx="421.8" cy="1022.4" r="1.9" fill="#000"/><circle cx="426.8" cy="1022.4" r="1.9" fill="#000"/><circle cx="431.2" cy="1022.4" r="1.9" fill="#000"/><circle cx="438.7" cy="1022.4" r="1.9" fill="#000"/><circle cx="445.2" cy="1022.4" r="1.9" fill="#000"/><circle cx="451.8" cy="1022.4" r="1.9" fill="#000"/><circle cx="456.5" cy="1021.8" r="1.9" fill="#000"/><circle cx="461.2" cy="1021.1" r="2.5" fill="#BE2428"/><circle cx="466.3" cy="1020.5" r="2.5" fill="#BE2428"/><circle cx="470.9" cy="1020.1" r="2.5" fill="#BE2428"/><circle cx="476.6" cy="1019.2" r="2.5" fill="#BE2428"/>
</g>
<g id="s4co">
<g filter="url(#wob)">
<g clip-path="url(#cp_s4co)">
<g filter="url(#soft)">
<use href="#ol_s4co" fill="#fefefe"/>
<use href="#ol_s4co" fill="none" stroke="#b4b4b4" stroke-width="8" stroke-linejoin="round"/>
<use href="#sd_s4co" stroke="#b4b4b4" stroke-width="9.5"/>
<path d="M907 824C906.7 826.1 905.1 832.6 905.4 836.5C905.7 840.4 908 845.6 908.5 847.4" fill="none" stroke="#999" stroke-width="9" stroke-linecap="round" stroke-linejoin="round"/>
<path d="M1006.9 819.3C1007.4 821.4 1009.2 827.1 1010 831.8C1010.8 836.5 1011.3 844.8 1011.6 847.4" fill="none" stroke="#999" stroke-width="9" stroke-linecap="round" stroke-linejoin="round"/>
<path d="M913.2 866.2C915.3 865.9 922.3 863 925.7 864.6C929.1 866.2 933.5 872.4 933.5 875.5C933.5 878.7 927 882 925.7 883.3" fill="none" stroke="#bbb" stroke-width="8" stroke-linecap="round" stroke-linejoin="round"/>
<path d="M1000.6 866.2C998.6 866.2 991.3 864.6 988.2 866.2C985 867.7 981.6 872.4 981.9 875.5C982.2 878.7 988.4 883.3 989.7 884.9" fill="none" stroke="#bbb" stroke-width="8" stroke-linecap="round" stroke-linejoin="round"/>
<use href="#sd_s4co" stroke="#222" stroke-width="2.8"/>
<path d="M956.1 772.8C956 775.1 955.5 781.4 955.4 786.5C955.2 791.7 955.4 800.8 955.4 803.7" fill="none" stroke="#555" stroke-width="2.4" stroke-linecap="round" stroke-linejoin="round"/>
<path d="M933.5 794.3C935.3 793.8 940.8 791 944.4 791.2C948.1 791.5 951.7 795.6 955.4 795.9C959 796.2 962.9 792.8 966.3 792.8C969.7 792.8 974.1 795.4 975.7 795.9" fill="none" stroke="#8a8a8a" stroke-width="5" stroke-linecap="round" stroke-linejoin="round"/>
<path d="M947.6 834.9C949 834.4 953.3 831.8 956.1 831.8C959 831.8 963.3 834.4 964.7 834.9" fill="none" stroke="#9a9a9a" stroke-width="4" stroke-linecap="round" stroke-linejoin="round"/>
<path d="M878.8 808.4C879.6 809.2 883.3 811.3 883.5 813.1C883.8 814.9 880.9 818.3 880.4 819.3" fill="none" stroke="#555" stroke-width="5" stroke-linecap="round" stroke-linejoin="round"/>
<path d="M925.7 808.4C926 806.7 926.7 806 928.8 806C930.9 806 935.1 807.2 938.2 808.4C941.3 809.6 944.8 811.6 947.6 813.1C950.3 814.6 952 817.4 954.6 817.4C957.2 817.4 960.2 814.6 963.2 813.1C966.2 811.6 969.4 809.7 972.5 808.4C975.7 807.1 979.6 805.1 981.9 805.3C984.2 805.4 986.1 807.1 986.6 809.2C987.1 811.3 986.3 815 985 817.8C983.7 820.5 981.4 823.5 978.8 825.6C976.2 827.7 972.5 829.2 969.4 830.3C966.3 831.3 962.4 832.9 960 831.8C957.7 830.8 957.2 824.2 955.4 824C953.5 823.8 951.7 829.8 949.1 830.6C946.5 831.3 942.6 829.8 939.7 828.7C936.9 827.6 934 826.1 931.9 824C929.9 821.9 928.3 818.8 927.3 816.2C926.2 813.6 925.4 810.1 925.7 808.4Z" fill="#383838"/>
<path d="M956.1 844.3C958 844.3 961 848 961.6 849.8C962.3 851.6 961 853.7 960 855.2C959.1 856.8 957.4 859.1 956.1 859.1C954.8 859.1 953.1 856.8 952.2 855.2C951.3 853.7 950 851.6 950.7 849.8C951.3 848 954.3 844.3 956.1 844.3Z" fill="#4a4a4a"/>
</g>
<use href="#ol_s4co" fill="none" stroke="#2c2c2c" stroke-width="2.2" stroke-opacity="0.75" filter="url(#soft0)"/>
</g>
<path d="M930 747.6h0M942.6 752h0M945.8 766h0M958.8 771h0M963.1 757.9h0M973.5 746.2h0M987.8 755.3h0M985.7 766.5h0M995.4 764.8h0M1009.7 762.4h0M1020 772.3h0M1032.2 781.1h0M1037.1 794h0M1047.4 806.5h0M1045.9 818h0M1048.1 835.2h0M1052.4 845h0M1053.9 861h0M1054.5 875h0M1049.6 886.7h0M1035 894.6h0M1021.2 898.6h0M1005.1 897.9h0M913.2 900.1h0M896.7 895.6h0M881.5 892.1h0M868.5 887.8h0M861.8 874.8h0M862.4 858.8h0M862.7 845.3h0M865.6 834.8h0M861 818.2h0M864.2 801.5h0M873.5 794.5h0M883.6 781.9h0M886.1 770h0M899.4 769.2h0M906.5 768.1h0M914.2 757.7h0M922.8 747.3h0" stroke="#fff" stroke-width="3.4" stroke-linecap="round" fill="none" filter="url(#soft0)"/>
</g>
<circle cx="867.9" cy="842.7" r="2.1" fill="#000"/><circle cx="908.8" cy="848.5" r="2.1" fill="#000"/><path d="M870.7 842.4L906.6 847.7" stroke="#DC2A1A" stroke-width="4.6" stroke-linecap="round" fill="none"/><path d="M999.4 847L1041.7 844.8" stroke="#DC2A1A" stroke-width="4.8" stroke-linecap="round" fill="none"/>
</g>
<g id="s4ax">
<g filter="url(#wob)">
<g clip-path="url(#cp_s4ax)">
<g filter="url(#soft)">
<use href="#ol_s4ax" fill="#fefefe"/>
<use href="#ol_s4ax" fill="none" stroke="#b4b4b4" stroke-width="8" stroke-linejoin="round"/>
<use href="#sd_s4ax" stroke="#acacac" stroke-width="9.5"/>
<path d="M900.7 982.6C901.4 985.1 902.9 992.6 904.5 997.6C906.1 1002.6 909.2 1010.1 910.1 1012.6" fill="none" stroke="#555" stroke-width="16" stroke-linecap="round" stroke-linejoin="round"/>
<path d="M1005.9 980.7C1006.3 983.5 1007.7 992 1008.7 997.6C1009.6 1003.2 1011 1011.7 1011.5 1014.5" fill="none" stroke="#505050" stroke-width="16" stroke-linecap="round" stroke-linejoin="round"/>
<path d="M951.4 956.3C951.3 959.4 950.2 969.5 950.5 975.1C950.8 980.7 952.8 987.6 953.3 990.1" fill="none" stroke="#a0a0a0" stroke-width="7" stroke-linecap="round" stroke-linejoin="round"/>
<path d="M963.6 956.3C963.8 959.4 965 969.5 964.6 975.1C964.1 980.7 961.4 987.6 960.8 990.1" fill="none" stroke="#a0a0a0" stroke-width="7" stroke-linecap="round" stroke-linejoin="round"/>
<path d="M928.9 993.9C931.6 991.7 937 989.5 940.2 990.1C943.3 990.7 947 994.8 947.7 997.6C948.3 1000.4 945.8 1004.5 943.9 1007C942 1009.5 938.3 1009.2 936.4 1012.6C934.5 1016.1 934.5 1027 932.7 1027.7C930.8 1028.3 926.6 1020.5 925.1 1016.4C923.7 1012.3 923.6 1007 924.2 1003.2C924.8 999.5 926.2 996.1 928.9 993.9Z" fill="#d4d4d4"/>
<path d="M985.2 993.9C982.6 991.7 977.1 989.5 974 990.1C970.8 990.7 967.1 994.8 966.4 997.6C965.8 1000.4 968.3 1004.5 970.2 1007C972.1 1009.5 975.8 1009.2 977.7 1012.6C979.6 1016.1 979.6 1027 981.5 1027.7C983.3 1028.3 987.6 1020.5 989 1016.4C990.4 1012.3 990.5 1007 989.9 1003.2C989.3 999.5 987.9 996.1 985.2 993.9Z" fill="#d4d4d4"/>
<use href="#sd_s4ax" stroke="#1e1e1e" stroke-width="2.8"/>
<path d="M958 940.4C958 944.6 958.1 956.2 958 965.7C957.9 975.2 957.5 992.3 957.4 997.6" fill="none" stroke="#555" stroke-width="2.4" stroke-linecap="round" stroke-linejoin="round"/>
<path d="M956.1 997.6L956.1 1022" fill="none" stroke="#555" stroke-width="2.5" stroke-linecap="round" stroke-linejoin="round"/>
<path d="M957.4 1087.7L958 1114" fill="none" stroke="#666" stroke-width="2.5" stroke-linecap="round" stroke-linejoin="round"/>
<path d="M945.8 1051.1C945.8 1048.3 952.7 1039.9 956.1 1039.9C959.6 1039.9 966.4 1048.3 966.4 1051.1C966.4 1053.9 959.6 1056.7 956.1 1056.7C952.7 1056.7 945.8 1053.9 945.8 1051.1Z" fill="#555"/>
<path d="M920.4 1067.1C921.4 1064.6 922.8 1061.4 925.1 1059.6C927.5 1057.7 931.6 1056.4 934.5 1055.8C937.5 1055.2 941.3 1054.9 943 1055.8C944.7 1056.7 945.6 1058.9 944.9 1061.4C944.1 1063.9 940.9 1068 938.3 1070.8C935.6 1073.6 931.7 1076.6 928.9 1078.3C926.1 1080.1 923 1081.8 921.4 1081.2C919.8 1080.5 919.7 1076.9 919.5 1074.6C919.4 1072.2 919.5 1069.6 920.4 1067.1Z" fill="#333"/>
<path d="M966.4 1057.7C967.1 1055.8 971.1 1055.2 974 1055.8C976.8 1056.4 980.7 1058.9 983.3 1061.4C986 1063.9 988.3 1067.7 989.9 1070.8C991.5 1074 992.6 1077.4 992.7 1080.2C992.9 1083 992.1 1086.8 990.8 1087.7C989.6 1088.7 987.4 1087.7 985.2 1085.8C983 1084 980.2 1079.6 977.7 1076.5C975.2 1073.3 972.1 1070.2 970.2 1067.1C968.3 1063.9 965.8 1059.6 966.4 1057.7Z" fill="#333"/>
</g>
<use href="#ol_s4ax" fill="none" stroke="#2c2c2c" stroke-width="2.2" stroke-opacity="0.75" filter="url(#soft0)"/>
</g>
<path d="M955.5 937.5h0M968 935h0M983.4 938.8h0M994.5 946.2h0M1003.7 953.7h0M1016 965.2h0M1016.3 978.7h0M1014.7 990h0M1020.1 1003.7h0M1028.7 1015.5h0M1032.8 1029.8h0M1035 1046.2h0M1035.9 1063.1h0M1034.7 1077h0M1031.7 1089.9h0M1025.4 1105.3h0M1016.3 1118h0M1006.6 1127.2h0M992 1136.5h0M975 1138.2h0M958.9 1142.2h0M945.1 1140.5h0M930.8 1138.2h0M919.9 1133.3h0M904.9 1124.3h0M897.3 1115.8h0M888.6 1102.6h0M881.9 1089h0M877.3 1071.4h0M876.7 1056.7h0M877.9 1041.4h0M880.8 1024.3h0M887.2 1012h0M891.8 997.6h0M893.7 985.1h0M895.4 973.7h0M900 956.7h0M908.5 948.9h0M919.9 943.6h0M934.6 936.1h0" stroke="#fff" stroke-width="3.4" stroke-linecap="round" fill="none" filter="url(#soft0)"/>
</g>
<path d="M880.1 1042.1L1030.3 1042.1" stroke="#a0a0a0" stroke-width="0.6" stroke-opacity="0.4" fill="none"/>
<path d="M957.4 1061.4L957.4 1144" stroke="#a0a0a0" stroke-width="0.6" stroke-opacity="0.4" fill="none"/>
<circle cx="884.2" cy="1019" r="2.0" fill="#000"/><circle cx="917.1" cy="1040.2" r="2.0" fill="#000"/><path d="M886.3 1020L915.4 1039.1" stroke="#DC2A1A" stroke-width="4.8" stroke-linecap="round" fill="none"/><path d="M990.5 1033.8L1029 1031.8" stroke="#DC2A1A" stroke-width="4.8" stroke-linecap="round" fill="none"/>
</g>
<g id="s5co">
<g filter="url(#wob)">
<g clip-path="url(#cp_s5co)">
<g filter="url(#softer)">
<use href="#ol_s5co" fill="#fefefe"/>
<use href="#ol_s5co" fill="none" stroke="#c4c4c4" stroke-width="8" stroke-linejoin="round"/>
<use href="#sd_s5co" stroke="#c8c8c8" stroke-width="9.5"/>
<path d="M1439.4 812.8C1440.5 813.5 1444.7 814.6 1445.7 817.4C1446.7 820.3 1446.2 826.6 1445.7 829.9C1445.2 833.3 1443.1 836.4 1442.6 837.7" fill="none" stroke="#9a9a9a" stroke-width="9" stroke-linecap="round" stroke-linejoin="round"/>
<path d="M1539.4 814.3C1539.6 816.4 1541.2 822.1 1540.9 826.8C1540.7 831.5 1538.3 839.8 1537.8 842.4" fill="none" stroke="#9a9a9a" stroke-width="9" stroke-linecap="round" stroke-linejoin="round"/>
<path d="M1448.8 853.4C1450.9 853.1 1458.2 850.8 1461.3 851.8C1464.4 852.8 1467.6 856.7 1467.6 859.6C1467.6 862.5 1462.3 867.4 1461.3 869" fill="none" stroke="#bbb" stroke-width="8" stroke-linecap="round" stroke-linejoin="round"/>
<path d="M1536.3 854.9C1534.2 854.7 1527.2 852.3 1523.8 853.4C1520.4 854.4 1516.2 858.3 1516 861.2C1515.7 864 1521.2 869 1522.2 870.5" fill="none" stroke="#bbb" stroke-width="8" stroke-linecap="round" stroke-linejoin="round"/>
<use href="#sd_s5co" stroke="#6e6e6e" stroke-width="3.0"/>
<path d="M1492.1 745.6C1492.1 749.5 1492.5 761.2 1492.5 769C1492.6 776.8 1492.5 788.6 1492.5 792.5" fill="none" stroke="#666" stroke-width="2.0" stroke-linecap="round" stroke-linejoin="round"/>
<path d="M1473.8 776.8C1475.6 776.3 1481.6 772.9 1484.7 773.7C1487.9 774.5 1489.7 781.3 1492.5 781.5C1495.4 781.8 1499.3 775.8 1501.9 775.3C1504.5 774.8 1507.1 777.9 1508.2 778.4" fill="none" stroke="#9a9a9a" stroke-width="5" stroke-linecap="round" stroke-linejoin="round"/>
<path d="M1480 787.8C1481.6 788.6 1486 792.2 1489.4 792.5C1492.8 792.7 1498.5 789.9 1500.3 789.3" fill="none" stroke="#aaa" stroke-width="4" stroke-linecap="round" stroke-linejoin="round"/>
<path d="M1492.5 829.9L1492.5 842.4" fill="none" stroke="#666" stroke-width="3.2" stroke-linecap="round" stroke-linejoin="round"/>
<path d="M1461.3 875.2C1462.6 876.8 1466.5 881.2 1469.1 884.6C1471.7 888 1474.1 892.1 1476.9 895.5C1479.8 898.9 1484.7 903.3 1486.3 904.9" fill="none" stroke="#555" stroke-width="3" stroke-linecap="round" stroke-linejoin="round"/>
<path d="M1523.8 879.9C1522.5 881.2 1518.6 884.9 1516 887.7C1513.4 890.6 1510.8 894.1 1508.2 897.1C1505.5 900.1 1501.6 904.2 1500.3 905.7" fill="none" stroke="#555" stroke-width="3" stroke-linecap="round" stroke-linejoin="round"/>
<path d="M1467.6 803.4C1467.9 802 1468.6 800.1 1470.7 799.5C1472.8 798.8 1476.9 798.8 1480 799.5C1483.2 800.1 1487.3 802.3 1489.4 803.4C1491.5 804.5 1491 806.2 1492.5 806C1494.1 805.9 1496.2 803.7 1498.8 802.6C1501.4 801.5 1505.3 799.7 1508.2 799.5C1511 799.2 1514.3 799.9 1516 801C1517.7 802.2 1518.6 804.3 1518.3 806.5C1518 808.7 1516.4 812.2 1514.4 814.3C1512.4 816.4 1509.5 818.1 1506.6 819C1503.7 819.9 1499.4 820 1497.2 819.8C1495 819.6 1494.6 817.8 1493.3 817.8C1492 817.8 1491.6 819.7 1489.4 819.8C1487.2 819.9 1482.9 819.4 1480 818.2C1477.2 817.1 1474.2 814.5 1472.2 812.8C1470.3 811.1 1469.1 809.6 1468.3 808.1C1467.6 806.5 1467.2 804.8 1467.6 803.4Z" fill="#383838"/>
</g>
<use href="#ol_s5co" fill="none" stroke="#444" stroke-width="2.4" stroke-opacity="0.6" filter="url(#soft0)"/>
</g>
<path d="M1491.4 743.8h0M1505.1 739.4h0M1522.7 743.4h0M1532.3 748.4h0M1547.2 757.4h0M1557.6 771.1h0M1568.3 780.1h0M1575.1 794.9h0M1578.9 806.5h0M1579.9 821h0M1583.7 830.8h0M1586.7 846.7h0M1586.2 861.7h0M1577.9 874.6h0M1564.1 880.7h0M1549.8 881.5h0M1534.1 883.2h0M1449.2 880h0M1435.2 878.9h0M1420.4 876.9h0M1408.6 872.8h0M1398.9 857.6h0M1397.2 840.7h0M1400.8 823.7h0M1403.6 810.1h0M1404.8 793.6h0M1410.9 781.1h0M1418.7 772h0M1427.4 764.1h0M1439.9 756.1h0M1454.1 746.6h0M1465 743.2h0M1480.3 739.9h0" stroke="#fff" stroke-width="3.4" stroke-linecap="round" fill="none" filter="url(#soft0)"/>
</g>
<path d="M1445.7 820.6L1580 820.6" stroke="#a0a0a0" stroke-width="0.6" stroke-opacity="0.4" fill="none"/>
<path d="M1493 742.5L1493 909.6" stroke="#a0a0a0" stroke-width="0.6" stroke-opacity="0.4" fill="none"/>
<path d="M1406.2 829.2L1427.7 826" stroke="#BE2428" stroke-width="2.4" stroke-linecap="round" fill="none"/><path d="M1429.8 825.9L1440.7 824.6" stroke="#000" stroke-width="5.6" stroke-linecap="round" fill="none"/><path d="M1401.7 840.1L1443.8 832.4" stroke="#BE2428" stroke-width="3.0" stroke-linecap="round" fill="none"/><path d="M1539.9 837.7L1580.5 837.4" stroke="#BE2428" stroke-width="3.2" stroke-linecap="round" fill="none"/>
</g>
<g id="s5ax">
<g filter="url(#wob)">
<g clip-path="url(#cp_s5ax)">
<g filter="url(#softer)">
<use href="#ol_s5ax" fill="#fefefe"/>
<use href="#ol_s5ax" fill="none" stroke="#c4c4c4" stroke-width="8" stroke-linejoin="round"/>
<use href="#sd_s5ax" stroke="#c8c8c8" stroke-width="9.5"/>
<path d="M1444.7 974.8C1445 977.3 1446.5 984.9 1446.5 989.9C1446.5 994.9 1445 1002.4 1444.7 1004.9" fill="none" stroke="#888" stroke-width="10" stroke-linecap="round" stroke-linejoin="round"/>
<path d="M1534.8 974.8C1535.1 977.3 1536.7 984.9 1536.7 989.9C1536.7 994.9 1535.1 1002.4 1534.8 1004.9" fill="none" stroke="#888" stroke-width="10" stroke-linecap="round" stroke-linejoin="round"/>
<path d="M1482.2 939.2C1482.1 941.4 1480.8 948.6 1481.3 952.3C1481.7 956.1 1484.4 960.1 1485 961.7" fill="none" stroke="#999" stroke-width="8" stroke-linecap="round" stroke-linejoin="round"/>
<path d="M1497.2 939.2C1497.4 941.4 1498.8 948.6 1498.2 952.3C1497.5 956.1 1494.3 960.1 1493.5 961.7" fill="none" stroke="#999" stroke-width="8" stroke-linecap="round" stroke-linejoin="round"/>
<path d="M1459.7 984.2C1461.4 983.6 1464.1 986.7 1465.3 989.9C1466.6 993 1467.5 998.6 1467.2 1003C1466.9 1007.4 1465 1012.7 1463.4 1016.1C1461.9 1019.6 1459.4 1024.9 1457.8 1023.7C1456.2 1022.4 1454.5 1013.6 1454.1 1008.6C1453.6 1003.6 1454.1 997.7 1455 993.6C1455.9 989.5 1458 984.9 1459.7 984.2Z" fill="#d9d9d9"/>
<path d="M1519.8 984.2C1517.9 983.6 1515.2 986.7 1514.1 989.9C1513 993 1512.6 998.6 1513.2 1003C1513.8 1007.4 1516 1012.7 1517.9 1016.1C1519.8 1019.6 1522.9 1024.9 1524.5 1023.7C1526 1022.4 1527.1 1013.6 1527.3 1008.6C1527.4 1003.6 1526.6 997.7 1525.4 993.6C1524.1 989.5 1521.6 984.9 1519.8 984.2Z" fill="#d9d9d9"/>
<path d="M1471 974.8C1471.6 973.6 1476.9 979.2 1478.5 982.4C1480 985.5 1481 992.4 1480.3 993.6C1479.7 994.9 1476.3 993 1474.7 989.9C1473.1 986.7 1470.3 976.1 1471 974.8Z" fill="#d0d0d0"/>
<path d="M1508.5 974.8C1507.9 973.6 1502.6 979.2 1501 982.4C1499.4 985.5 1498.5 992.4 1499.1 993.6C1499.7 994.9 1503.2 993 1504.7 989.9C1506.3 986.7 1509.1 976.1 1508.5 974.8Z" fill="#d0d0d0"/>
<use href="#sd_s5ax" stroke="#6e6e6e" stroke-width="3.0"/>
<path d="M1489.7 933.5C1489.7 936.7 1489.5 946.7 1489.3 952.3C1489.2 957.9 1488.9 964.8 1488.8 967.3" fill="none" stroke="#666" stroke-width="2.4" stroke-linecap="round" stroke-linejoin="round"/>
<path d="M1487.8 1065L1487.8 1110" fill="none" stroke="#666" stroke-width="2.0" stroke-linecap="round" stroke-linejoin="round"/>
<path d="M1487.8 1001.1L1488.2 1016.1" fill="none" stroke="#777" stroke-width="3" stroke-linecap="round" stroke-linejoin="round"/>
<path d="M1469.1 964.5C1470.3 963.4 1473.2 963.6 1475.6 965.5C1478.1 967.3 1481.6 972 1483.7 975.8C1485.8 979.5 1487.4 983.6 1488.2 988C1489 992.4 1489.5 999.6 1488.6 1002.1C1487.7 1004.6 1484.1 1004.6 1482.6 1003C1481.1 1001.4 1480.9 996.3 1479.4 992.7C1477.9 989.1 1475.6 984.9 1473.8 981.4C1471.9 978 1468.9 974.8 1468.1 972C1467.4 969.2 1467.8 965.6 1469.1 964.5Z" fill="#333"/>
<path d="M1513.8 967C1512.7 965.7 1510.2 964.4 1507.6 965.8C1505 967.3 1500.8 972.1 1498.2 975.8C1495.5 979.5 1492.9 983.6 1491.6 988C1490.3 992.4 1489.3 999.6 1490.1 1002.1C1490.9 1004.6 1494.9 1004.6 1496.5 1003C1498 1001.4 1497.7 996.3 1499.5 992.7C1501.2 989.1 1504.6 984.6 1507 981.4C1509.4 978.2 1512.6 975.8 1513.8 973.3C1514.9 970.9 1514.8 968.2 1513.8 967Z" fill="#333"/>
<path d="M1455 1046.2C1455.9 1043.8 1457.3 1042.4 1459.7 1041.5C1462 1040.5 1466.9 1040.1 1469.1 1040.5C1471.3 1041 1473.1 1042.4 1472.8 1044.3C1472.5 1046.2 1469.1 1049.3 1467.2 1051.8C1465.3 1054.3 1463.3 1057.4 1461.6 1059.3C1459.8 1061.2 1458.1 1063.7 1456.9 1063.1C1455.7 1062.4 1454.7 1058.4 1454.4 1055.6C1454.1 1052.7 1454.1 1048.5 1455 1046.2Z" fill="#383838"/>
<path d="M1495.4 1034.9C1496.6 1034 1501.3 1039 1504.7 1040.5C1508.2 1042.1 1513 1042.4 1516 1044.3C1519 1046.2 1521.6 1048.7 1522.6 1051.8C1523.5 1054.9 1522.4 1059.6 1521.6 1063.1C1520.9 1066.5 1519.1 1070.7 1517.9 1072.5C1516.6 1074.2 1515.7 1074.6 1514.1 1073.4C1512.6 1072.1 1510.4 1067.9 1508.5 1065C1506.6 1062 1504.7 1058.7 1502.9 1055.6C1501 1052.4 1498.5 1049.6 1497.2 1046.2C1496 1042.7 1494.1 1035.9 1495.4 1034.9Z" fill="#383838"/>
</g>
<use href="#ol_s5ax" fill="none" stroke="#444" stroke-width="2.4" stroke-opacity="0.6" filter="url(#soft0)"/>
</g>
<path d="M1486 914.6h0M1489.9 928.7h0M1490.1 923.8h0M1505.2 914.2h0M1518 919.6h0M1529.2 927.1h0M1541.6 933.4h0M1546.8 946.7h0M1555.9 959.9h0M1557.3 974h0M1561.6 990.3h0M1565.6 1002.5h0M1569.3 1013.7h0M1571.5 1029.3h0M1568.2 1044.9h0M1565.5 1060.5h0M1562.2 1073h0M1552.8 1087.8h0M1547.9 1095.2h0M1538.8 1105.3h0M1525.6 1116.9h0M1509.9 1121.7h0M1492.9 1122.5h0M1485.9 1115.1h0M1477.4 1121.7h0M1465.9 1123.4h0M1452.6 1119.3h0M1439.1 1107.5h0M1428.2 1094.3h0M1420.9 1080h0M1414.3 1063.6h0M1408.8 1051.5h0M1406.2 1033.9h0M1409.9 1017.5h0M1416.6 1002.4h0M1420.5 990.5h0M1422.2 973.5h0M1428 965.6h0M1428.5 949.5h0M1436.7 940.1h0M1446.4 927.9h0M1457.2 920.1h0M1468.8 917h0" stroke="#fff" stroke-width="3.4" stroke-linecap="round" fill="none" filter="url(#soft0)"/>
</g>
<path d="M1452.2 1027.4L1532.9 1027.4" stroke="#a0a0a0" stroke-width="0.6" stroke-opacity="0.4" fill="none"/>
<path d="M1487.8 915.7L1487.8 1110" stroke="#a0a0a0" stroke-width="0.6" stroke-opacity="0.4" fill="none"/>
<path d="M1413.1 1011.8L1431.5 1010.5" stroke="#BE2428" stroke-width="3.2" stroke-linecap="round" fill="none"/><path d="M1433.4 1010.5L1444.7 1009.9" stroke="#000" stroke-width="4.8" stroke-linecap="round" fill="none"/><path d="M1408.4 1029.7L1442.8 1018.2" stroke="#BE2428" stroke-width="3.0" stroke-linecap="butt" fill="none"/><path d="M1532.5 1018L1570.8 1028.3" stroke="#BE2428" stroke-width="3.0" stroke-linecap="butt" fill="none"/>
</g>
<g id="s1lat">
<g filter="url(#wob2)"><g clip-path="url(#cp_s1lat)">
<g filter="url(#gy1)"><use href="#ol_s1lat" fill="url(#gr_s1lat)"/></g>
<use href="#ol_s1lat" fill="none" stroke="#3a3a3a" stroke-width="7" stroke-opacity="0.5" filter="url(#soft2)"/>
<use href="#ol_s1lat" fill="none" stroke="#333" stroke-width="1.6" stroke-opacity="0.7"/>
</g></g>
<path d="M909.8 234h0M914.9 233.3h0M919.8 232.4h0M924 231h0M929.9 230.3h0M934.8 228.9h0M939.3 228.2h0M944.3 227.6h0M948.7 226.4h0M953.9 226.2h0M959.3 224.6h0M964.3 223.7h0M969.1 222.8h0M973.4 222.6h0M978.5 221.1h0M984.3 220.9h0M910.9 239.3h0M916.1 238.2h0M920.6 237.7h0M926 236.9h0M931.2 235.4h0M935.5 234.4h0M940.2 233.5h0M945.3 233.1h0M949.9 232.4h0M955.2 231.1h0M960.6 230.5h0M965 229.6h0M970.3 228.3h0M975.5 227.4h0M980.2 227.3h0M984.3 226.4h0M912.3 243.6h0M916.9 242.3h0M921.9 242.4h0M926.8 241.4h0M932.4 240.8h0M936.7 239.4h0M941.8 239h0M946.3 238.2h0M951.9 237.5h0M956 236.7h0M960.9 235.3h0M966.3 235h0M970.9 234.2h0M976 232.7h0M980.7 231.7h0M985.3 230.8h0M914 248.4h0M918.4 246.7h0M924 246.5h0M928.3 245.4h0M933.4 245.3h0M938.1 244.1h0M942.5 243.8h0M947.4 242.6h0M953 241.5h0M957.8 241.5h0M962.5 240.5h0M966.8 239.3h0M971.7 238.9h0M976.7 237.6h0M982.3 237.2h0M987.1 235.9h0M915.3 252.4h0M920.1 251.3h0M924.8 250.5h0M929.6 250.6h0M935 249.6h0M939.4 248.6h0M943.8 247.7h0M949.3 247.6h0M953.7 246.7h0M958.9 245.9h0M963.6 245.1h0M968.1 244.2h0M972.9 243.2h0M978.2 242.5h0M982.5 241.9h0M987.7 240.7h0M916.3 256.4h0M921.3 255.9h0M926.3 255.5h0M931.2 254.8h0M935.7 254h0M940.9 253.5h0M945.2 252.8h0M950.5 251.9h0M955.4 251.4h0M959.7 250.2h0M964.2 249.7h0M969.7 248.6h0M974.2 248h0M979.1 246.6h0M983.9 246.2h0M988.5 245.1h0M918.4 260.8h0M923.1 260.2h0M927.2 259h0M932.4 258.9h0M936.9 258.3h0M942 257h0M946.6 256.5h0M950.9 255.8h0M955.9 255.1h0M960.5 254.2h0M965.5 253.8h0M970.4 253.2h0M974.8 252.7h0M979.3 251.4h0M984.3 250.5h0M988.8 250h0M919.7 264.1h0M924.6 263.7h0M929.2 263.4h0M934 263.5h0M938.9 262.3h0M943.5 261.9h0M947.8 260.8h0M952.7 260.5h0M957.7 260.2h0M962.1 258.9h0M967 257.8h0M970.9 257.6h0M976.1 256.4h0M980.8 256.3h0M985.2 255h0M989.8 254h0M921.9 268.5h0M926.5 268.6h0M930.8 267.5h0M935.8 267.2h0M939.9 266.4h0M945.1 266h0M949 265.4h0M953.5 264.9h0M958.4 263.9h0M963.4 263.7h0M967.2 262.7h0M972.1 262.3h0M977.3 260.9h0M981.4 259.9h0M986.7 259.2h0M991 258.5h0M923.2 272.8h0M927.9 271.8h0M932.5 271.6h0M936.9 271.1h0M941.2 270.8h0M945.9 270.1h0M950.8 269.7h0M954.6 268.8h0M959.6 268.8h0M964.6 267.8h0M968.3 267.3h0M973.3 266.3h0M978.2 265.6h0M982.5 265.1h0M987 263.7h0M992 262.6h0M924.6 276.9h0M928.9 276.6h0M934 275.8h0M938.1 275.7h0M943.3 274.6h0M947.4 274.5h0M951.9 273.7h0M956.1 273.4h0M961.2 272.2h0M965.2 272.3h0M970.2 271.4h0M974 270.8h0M979.4 270.3h0M983.7 268.5h0M988.3 267.8h0M992.6 267.7h0M926.8 280.2h0M930.8 280.6h0M935.1 280h0M939.8 279.1h0M944.5 278.6h0M948.4 278.4h0M952.8 277.6h0M957.8 277.7h0M962.5 276.5h0M966.5 276h0M971.2 275.5h0M975.9 274.7h0M979.5 274.2h0M984 273.4h0M988.8 272.8h0M993.3 271.6h0M928.2 284.5h0M932.5 284.4h0M937.2 283.5h0M941.3 283.4h0M946.2 282.8h0M950.5 282.8h0M954.3 282.3h0M958.6 281.2h0M963.5 280.8h0M968.2 280.4h0M972 280h0M976.1 279.3h0M980.5 277.9h0M985.8 277.7h0M989.4 276.3h0M994.6 275.9h0M930.6 288h0M934.7 287.9h0M938.6 287.7h0M943.3 287.3h0M947.4 286.8h0M952.1 286.9h0M956.4 286.2h0M960.8 285.8h0M964.8 285.3h0M969.3 284.5h0M972.9 283.5h0M977.3 282.8h0M982.3 282.5h0M986.5 281.2h0M990.5 281.3h0M995 279.9h0M932.1 291.8h0M936.1 291.6h0M940.5 291.6h0M945.3 291.1h0M948.9 290.9h0M953 290.6h0M957.3 290.3h0M961.3 290.3h0M965.9 289.8h0M970.5 288.9h0M974.5 288.6h0M978.3 287.6h0M982.8 286.9h0M934.4 295.7h0M938 295.4h0M942.2 295.3h0M946.5 295.9h0M950.6 295h0M954.9 294.6h0M959.3 294.6h0M962.9 293.7h0M967.5 293.9h0M971.7 292.8h0M976.1 291.8h0M979.4 291.9h0M983.9 290.4h0" stroke="#0a0a0a" stroke-width="2.6" stroke-linecap="round" fill="none"/><path d="M974.9 253.6h0M980.2 252.6h0M985.2 251.8h0M970.5 260h0M975.4 258.6h0M980.5 257.9h0M985.2 257.6h0M989.8 256.7h0M955.7 262.5h0M960.5 261.6h0M965.8 261h0M992.1 261h0M971.5 265.1h0M976.6 264.1h0M981.6 263.2h0M986.7 262.6h0M961 266.2h0M966.8 265.5h0M972.3 269.7h0M977.7 268.7h0M983.1 267.7h0M993.6 269.4h0" stroke="#DF3A28" stroke-width="4.6" stroke-linecap="round" fill="none"/>
</g>
<g id="s2lat">
<g filter="url(#wob2)"><g clip-path="url(#cp_s2lat)">
<g filter="url(#gy2)"><use href="#ol_s2lat" fill="url(#gr_s2lat)"/><path d="M1552.5 208.5C1554 206 1560.5 207 1564.5 210C1568.5 213 1573.4 220.5 1576.5 226.5C1579.6 232.5 1582.6 239.5 1583.2 246C1583.9 252.5 1583.4 261.2 1580.2 265.5C1577.1 269.7 1567.5 274.7 1564.5 271.5C1561.5 268.2 1563.7 253.7 1562.2 246C1560.7 238.2 1557.1 231.2 1555.5 225C1553.9 218.7 1551 211 1552.5 208.5Z" fill="#fff" fill-opacity="1" filter="url(#soft3)"/><path d="M1495.5 267C1505.5 261.2 1547.4 248 1561.5 247.5C1575.6 247 1579.2 259 1580.2 264C1581.2 269 1573.9 274.4 1567.5 277.5C1561.1 280.6 1550 281.1 1542 282.7C1534 284.4 1526.2 287.4 1519.5 287.2C1512.7 287.1 1505.5 285.4 1501.5 282C1497.5 278.6 1485.5 272.7 1495.5 267Z" fill="#fff" fill-opacity="1" filter="url(#soft3)"/><path d="M1525.5 211.5C1528 208.9 1545 205.7 1549.5 206.2C1554 206.7 1555 211.9 1552.5 214.5C1550 217.1 1539 222.5 1534.5 222C1530 221.5 1523 214.1 1525.5 211.5Z" fill="#fff" fill-opacity="1" filter="url(#soft3)"/><path d="M1563 234C1565.5 230 1575.5 235.5 1578 240C1580.5 244.5 1580.5 257 1578 261C1575.5 265 1565.5 268.5 1563 264C1560.5 259.5 1560.5 238 1563 234Z" fill="#fff" fill-opacity="1" filter="url(#soft3)"/><path d="M1434 234C1436.5 230 1449.5 227 1455 228C1460.5 229 1466.5 235.5 1467 240C1467.5 244.5 1462.5 253 1458 255C1453.5 257 1444 255.5 1440 252C1436 248.5 1431.5 238 1434 234Z" fill="#fff" fill-opacity="0.25" filter="url(#soft3)"/><ellipse cx="1509.7" cy="279.7" rx="6" ry="9" fill="#555" fill-opacity="0.75" filter="url(#soft3)"/></g>
<use href="#ol_s2lat" fill="none" stroke="#3a3a3a" stroke-width="7" stroke-opacity="0.45" filter="url(#soft2)"/>
<use href="#ol_s2lat" fill="none" stroke="#333" stroke-width="1.6" stroke-opacity="0.7"/>
</g></g>
<path d="M1487.7 234h0M1491.9 232.7h0M1496.1 231.5h0M1500.4 230.2h0M1504.6 229h0M1521.5 224h0M1525.7 222.7h0M1529.9 221.5h0M1534.1 220.2h0M1538.3 219h0M1542.6 217.7h0M1546.8 216.5h0M1551 215.2h0M1488.9 238.1h0M1493.1 236.9h0M1497.4 235.6h0M1501.6 234.4h0M1522.7 228.1h0M1526.9 226.8h0M1531.1 225.6h0M1535.3 224.3h0M1539.6 223.1h0M1543.8 221.8h0M1548 220.6h0M1552.2 219.3h0M1490.1 242.2h0M1494.4 241h0M1498.6 239.7h0M1502.8 238.5h0M1507 237.2h0M1511.2 235.9h0M1523.9 232.2h0M1536.6 228.4h0M1545 225.9h0M1549.3 224.6h0M1553.5 223.4h0M1491.4 246.3h0M1495.6 245.1h0M1499.8 243.8h0M1508.3 241.3h0M1512.5 240h0M1533.6 233.8h0M1537.8 232.5h0M1542 231.2h0M1546.3 230h0M1550.5 228.7h0M1554.7 227.5h0M1492.6 250.5h0M1496.8 249.2h0M1505.3 246.7h0M1522.2 241.6h0M1526.4 240.4h0M1530.6 239.1h0M1534.8 237.8h0M1539.1 236.6h0M1543.3 235.3h0M1547.5 234.1h0M1551.7 232.8h0M1556 231.5h0M1493.8 254.6h0M1498 253.3h0M1502.3 252h0M1523.4 245.7h0M1527.6 244.5h0M1531.8 243.2h0M1536.1 241.9h0M1540.3 240.7h0M1544.5 239.4h0M1548.8 238.1h0M1553 236.9h0M1557.2 235.6h0M1495 258.7h0M1499.3 257.4h0M1503.5 256.1h0M1507.7 254.9h0M1511.9 253.6h0M1516.2 252.3h0M1520.4 251.1h0M1524.6 249.8h0M1528.8 248.5h0M1533.1 247.3h0M1537.3 246h0M1541.5 244.7h0M1545.8 243.5h0M1550 242.2h0M1554.2 240.9h0M1558.4 239.7h0M1496.2 262.8h0M1500.5 261.5h0M1504.7 260.3h0M1508.9 259h0M1513.2 257.7h0M1517.4 256.4h0M1521.6 255.2h0M1525.9 253.9h0M1530.1 252.6h0M1534.3 251.4h0M1538.5 250.1h0M1542.8 248.8h0M1547 247.6h0M1551.2 246.3h0M1555.5 245h0M1559.7 243.7h0" stroke="#0a0a0a" stroke-width="3.4" stroke-linecap="round" fill="none"/><path d="M1501 247.9h0M1514.2 230.6h0M1513.7 244.1h0M1517.2 225.2h0M1510 231.8h0M1528.1 230.9h0M1517.9 242.9h0M1520.9 237.5h0M1525.2 236.3h0M1540.8 227.2h0M1505.8 233.1h0M1506.5 250.8h0M1509.5 245.4h0M1515.5 234.7h0M1514.9 248.2h0M1518.5 229.3h0M1519.2 247h0M1529.4 235h0M1510.7 249.5h0M1504 242.6h0M1508.8 227.7h0M1519.7 233.4h0M1513 226.5h0M1516.7 238.8h0M1532.4 229.7h0" stroke="#E0261A" stroke-width="3.4" stroke-linecap="round" fill="none"/>
</g>
<!-- titles -->
<text y="28.3" font-size="36.6" font-weight="bold" fill="#111" stroke="#111" stroke-width="0.3"><tspan x="0.45" textLength="35.18" lengthAdjust="spacingAndGlyphs">A.</tspan> <tspan x="45.85" textLength="138.53" lengthAdjust="spacingAndGlyphs">Average</tspan> <tspan x="195.04" textLength="98.77" lengthAdjust="spacingAndGlyphs">ESTOI</tspan> <tspan x="302.93" textLength="90.24" lengthAdjust="spacingAndGlyphs">score</tspan></text>
<text y="28.3" font-size="36.6" font-weight="bold" fill="#111" stroke="#111" stroke-width="0.3"><tspan x="608.94" textLength="33.06" lengthAdjust="spacingAndGlyphs">B.</tspan> <tspan x="652.23" textLength="191.29" lengthAdjust="spacingAndGlyphs">Per-subject</tspan> <tspan x="853.95" textLength="98.14" lengthAdjust="spacingAndGlyphs">ESTOI</tspan> <tspan x="961.63" textLength="89.33" lengthAdjust="spacingAndGlyphs">score</tspan></text>
<text y="99.9" font-size="36.2" font-weight="bold" fill="#000" stroke="#000" stroke-width="0.3"><tspan x="718.39" textLength="125.61" lengthAdjust="spacingAndGlyphs">Subject</tspan> <tspan x="854.69" textLength="18.67" lengthAdjust="spacingAndGlyphs">1</tspan></text>
<text y="99.9" font-size="36.2" font-weight="bold" fill="#000" stroke="#000" stroke-width="0.3"><tspan x="1234.49" textLength="125.61" lengthAdjust="spacingAndGlyphs">Subject</tspan> <tspan x="1371.47" textLength="19.79" lengthAdjust="spacingAndGlyphs">2</tspan></text>
<text y="705.5" font-size="36.2" font-weight="bold" fill="#000" stroke="#000" stroke-width="0.3"><tspan x="170.89" textLength="125.61" lengthAdjust="spacingAndGlyphs">Subject</tspan> <tspan x="308.15" textLength="18.75" lengthAdjust="spacingAndGlyphs">3</tspan></text>
<text y="705.5" font-size="36.2" font-weight="bold" fill="#000" stroke="#000" stroke-width="0.3"><tspan x="713.39" textLength="125.61" lengthAdjust="spacingAndGlyphs">Subject</tspan> <tspan x="850.95" textLength="17.81" lengthAdjust="spacingAndGlyphs">4</tspan></text>
<text y="705.5" font-size="36.2" font-weight="bold" fill="#000" stroke="#000" stroke-width="0.3"><tspan x="1234.39" textLength="125.61" lengthAdjust="spacingAndGlyphs">Subject</tspan> <tspan x="1371.42" textLength="18.75" lengthAdjust="spacingAndGlyphs">5</tspan></text>
<!-- panel A -->
<rect x="137.50" y="411.20" width="49.50" height="135.80" fill="#5CACD9"/>
<rect x="220.80" y="390.00" width="49.40" height="157.00" fill="#3B2E94"/>
<rect x="308.00" y="310.00" width="49.20" height="237.00" fill="#FF97B7"/>
<rect x="395.00" y="261.00" width="49.00" height="286.00" fill="#B92626"/>
<path d="M111.30 175.30L115.10 175.30L113.20 546.10L452.50 546.10L452.50 550.00L109.40 550.00Z" fill="#000"/>
<path d="M158.30 396.20V427.00" stroke="#1a1a1a" stroke-width="2.1" fill="none"/>
<path d="M155.80 396.90h5M155.80 426.30h5" stroke="#1a1a1a" stroke-width="1.5" fill="none"/>
<ellipse cx="158.30" cy="411.50" rx="1.9" ry="3" fill="#1a1a1a"/>
<path d="M245.50 367.50V412.00" stroke="#1a1a1a" stroke-width="2.1" fill="none"/>
<path d="M243.00 368.20h5M243.00 411.30h5" stroke="#1a1a1a" stroke-width="1.5" fill="none"/>
<ellipse cx="245.50" cy="390.30" rx="1.9" ry="3" fill="#1a1a1a"/>
<path d="M336.20 289.50V330.50" stroke="#1a1a1a" stroke-width="2.1" fill="none"/>
<path d="M333.70 290.20h5M333.70 329.80h5" stroke="#1a1a1a" stroke-width="1.5" fill="none"/>
<ellipse cx="336.20" cy="310.30" rx="1.9" ry="3" fill="#1a1a1a"/>
<path d="M419.40 243.50V278.30" stroke="#1a1a1a" stroke-width="2.1" fill="none"/>
<path d="M416.90 244.20h5M416.90 277.60h5" stroke="#1a1a1a" stroke-width="1.5" fill="none"/>
<ellipse cx="419.40" cy="261.30" rx="1.9" ry="3" fill="#1a1a1a"/>
<path d="M166.70 350.60L166.70 340.80L244.20 340.80L244.20 350.60L240.20 350.60L240.20 344.80L170.70 344.80L170.70 350.60Z" fill="#000"/>
<path d="M256.00 268.00L256.00 257.80L333.80 257.80L333.80 268.00L329.80 268.00L329.80 261.80L260.00 261.80L260.00 268.00Z" fill="#000"/>
<path d="M342.80 220.70L342.80 210.30L420.80 210.30L420.80 220.70L416.80 220.70L416.80 214.30L346.80 214.30L346.80 220.70Z" fill="#000"/>
<text x="174.61" y="329.5" font-size="36" fill="#000" stroke="#000" stroke-width="0.55" textLength="65.42" lengthAdjust="spacingAndGlyphs">N.S.</text>
<text x="259.97 284.67 309.27" y="260.83" font-size="39.2" font-weight="bold" font-family="DejaVu Sans, Liberation Sans, sans-serif" fill="#111" stroke="#111" stroke-width="0.9" stroke-linejoin="round">***</text>
<text x="359.27 383.57" y="213.33" font-size="39.2" font-weight="bold" font-family="DejaVu Sans, Liberation Sans, sans-serif" fill="#111" stroke="#111" stroke-width="0.9" stroke-linejoin="round">**</text>
<text x="52.30" y="196.3" font-size="37.2" fill="#000" stroke="#000" stroke-width="0.55" textLength="50.60" lengthAdjust="spacingAndGlyphs">0.4</text>
<text x="52.61" y="545.7" font-size="37.2" fill="#000" stroke="#000" stroke-width="0.55" textLength="49.73" lengthAdjust="spacingAndGlyphs">0.1</text>
<text transform="translate(90.7 396.7) rotate(-90)" x="-1.45" y="0" font-size="36" fill="#000" stroke="#000" stroke-width="0.55" textLength="93.77" lengthAdjust="spacingAndGlyphs">ESTOI</text>
<text x="127.85" y="585.0" font-size="36" fill="#5CACD9" stroke="#5CACD9" stroke-width="0.55" textLength="46.33" lengthAdjust="spacingAndGlyphs">Lin</text>
<text x="217.15" y="585.0" font-size="36" fill="#3B2E94" stroke="#3B2E94" stroke-width="0.55" textLength="46.33" lengthAdjust="spacingAndGlyphs">Lin</text>
<text x="295.33" y="585.0" font-size="36" fill="#FF97B7" stroke="#FF97B7" stroke-width="0.55" textLength="75.84" lengthAdjust="spacingAndGlyphs">DNN</text>
<text x="387.83" y="585.0" font-size="36" fill="#B92626" stroke="#B92626" stroke-width="0.55" textLength="75.84" lengthAdjust="spacingAndGlyphs">DNN</text>
<text x="100.78" y="634.5" font-size="36" fill="#5CACD9" stroke="#5CACD9" stroke-width="0.55" textLength="100.25" lengthAdjust="spacingAndGlyphs">ASpec</text>
<text x="209.78" y="634.5" font-size="36" fill="#3B2E94" stroke="#3B2E94" stroke-width="0.55" textLength="60.75" lengthAdjust="spacingAndGlyphs">Voc</text>
<text x="283.27" y="634.5" font-size="36" fill="#FF97B7" stroke="#FF97B7" stroke-width="0.55" textLength="100.25" lengthAdjust="spacingAndGlyphs">ASpec</text>
<text x="395.77" y="634.5" font-size="36" fill="#B92626" stroke="#B92626" stroke-width="0.55" textLength="60.25" lengthAdjust="spacingAndGlyphs">Voc</text>
<!-- subject 1 -->
<rect x="678.30" y="321.80" width="32.40" height="225.20" fill="#5CACD9"/>
<rect x="718.00" y="344.00" width="32.70" height="203.00" fill="#3B2E94"/>
<rect x="758.00" y="266.70" width="32.30" height="280.30" fill="#FF97B7"/>
<rect x="797.70" y="206.30" width="32.30" height="340.70" fill="#B92626"/>
<path d="M650.00 175.00L653.90 175.00L651.90 546.10L846.70 546.10L846.70 550.00L648.00 550.00Z" fill="#000"/>
<text x="588.99" y="200.2" font-size="37.2" fill="#000" stroke="#000" stroke-width="0.55" textLength="50.70" lengthAdjust="spacingAndGlyphs">0.4</text>
<text x="620.21" y="545.8" font-size="37.2" fill="#000" stroke="#000" stroke-width="0.55" textLength="19.87" lengthAdjust="spacingAndGlyphs">0</text>
<text transform="translate(628.6 397.3) rotate(-90)" x="-1.46" y="0" font-size="36" fill="#000" stroke="#000" stroke-width="0.55" textLength="94.40" lengthAdjust="spacingAndGlyphs">ESTOI</text>
<!-- subject 2 -->
<rect x="1195.00" y="441.00" width="32.00" height="106.00" fill="#5CACD9"/>
<rect x="1234.70" y="432.70" width="32.30" height="114.30" fill="#3B2E94"/>
<rect x="1274.30" y="385.00" width="32.40" height="162.00" fill="#FF97B7"/>
<rect x="1314.00" y="345.30" width="32.30" height="201.70" fill="#B92626"/>
<path d="M1171.90 175.00L1175.80 175.00L1173.50 546.10L1369.70 546.10L1369.70 550.00L1169.60 550.00Z" fill="#000"/>
<text x="1109.59" y="200.2" font-size="37.2" fill="#000" stroke="#000" stroke-width="0.55" textLength="50.80" lengthAdjust="spacingAndGlyphs">0.4</text>
<text x="1141.02" y="545.8" font-size="37.2" fill="#000" stroke="#000" stroke-width="0.55" textLength="19.76" lengthAdjust="spacingAndGlyphs">0</text>
<text transform="translate(1149.4 397.3) rotate(-90)" x="-1.46" y="0" font-size="36" fill="#000" stroke="#000" stroke-width="0.55" textLength="94.40" lengthAdjust="spacingAndGlyphs">ESTOI</text>
<!-- subject 3 -->
<rect x="131.00" y="933.00" width="32.30" height="195.50" fill="#5CACD9"/>
<rect x="171.00" y="894.00" width="32.00" height="234.50" fill="#3B2E94"/>
<rect x="210.70" y="805.70" width="32.00" height="322.80" fill="#FF97B7"/>
<rect x="250.70" y="781.70" width="32.00" height="346.80" fill="#B92626"/>
<path d="M111.20 756.20L115.10 756.20L113.20 1128.00L310.00 1128.00L310.00 1131.70L109.30 1131.70Z" fill="#000"/>
<text x="52.40" y="771.6" font-size="37.2" fill="#000" stroke="#000" stroke-width="0.55" textLength="50.39" lengthAdjust="spacingAndGlyphs">0.4</text>
<text x="82.80" y="1123.1" font-size="37.2" fill="#000" stroke="#000" stroke-width="0.55" textLength="20.19" lengthAdjust="spacingAndGlyphs">0</text>
<text transform="translate(90.8 982.5) rotate(-90)" x="-1.46" y="0" font-size="36" fill="#000" stroke="#000" stroke-width="0.55" textLength="94.29" lengthAdjust="spacingAndGlyphs">ESTOI</text>
<!-- subject 4 -->
<rect x="673.40" y="924.90" width="32.00" height="203.60" fill="#5CACD9"/>
<rect x="713.40" y="911.40" width="31.60" height="217.10" fill="#3B2E94"/>
<rect x="753.00" y="864.30" width="32.00" height="264.20" fill="#FF97B7"/>
<rect x="793.00" y="843.20" width="31.60" height="285.30" fill="#B92626"/>
<path d="M650.00 756.20L653.90 756.20L651.90 1128.00L846.50 1128.00L846.50 1131.70L648.00 1131.70Z" fill="#000"/>
<text x="588.90" y="771.6" font-size="37.2" fill="#000" stroke="#000" stroke-width="0.55" textLength="50.49" lengthAdjust="spacingAndGlyphs">0.4</text>
<text x="620.21" y="1123.1" font-size="37.2" fill="#000" stroke="#000" stroke-width="0.55" textLength="19.87" lengthAdjust="spacingAndGlyphs">0</text>
<text transform="translate(628.2 982.5) rotate(-90)" x="-1.46" y="0" font-size="36" fill="#000" stroke="#000" stroke-width="0.55" textLength="94.29" lengthAdjust="spacingAndGlyphs">ESTOI</text>
<!-- subject 5 -->
<rect x="1195.20" y="903.00" width="31.60" height="225.50" fill="#5CACD9"/>
<rect x="1234.80" y="856.30" width="31.60" height="272.20" fill="#3B2E94"/>
<rect x="1274.40" y="803.20" width="31.60" height="325.30" fill="#FF97B7"/>
<rect x="1314.40" y="755.60" width="31.60" height="372.90" fill="#B92626"/>
<path d="M1171.60 756.20L1175.60 756.20L1173.60 1128.00L1368.70 1128.00L1368.70 1131.70L1169.60 1131.70Z" fill="#000"/>
<text x="1109.59" y="771.6" font-size="37.2" fill="#000" stroke="#000" stroke-width="0.55" textLength="50.80" lengthAdjust="spacingAndGlyphs">0.4</text>
<text x="1141.02" y="1123.1" font-size="37.2" fill="#000" stroke="#000" stroke-width="0.55" textLength="19.76" lengthAdjust="spacingAndGlyphs">0</text>
<text transform="translate(1149.4 982.5) rotate(-90)" x="-1.46" y="0" font-size="36" fill="#000" stroke="#000" stroke-width="0.55" textLength="94.29" lengthAdjust="spacingAndGlyphs">ESTOI</text>
</svg>
</body>
</html>
